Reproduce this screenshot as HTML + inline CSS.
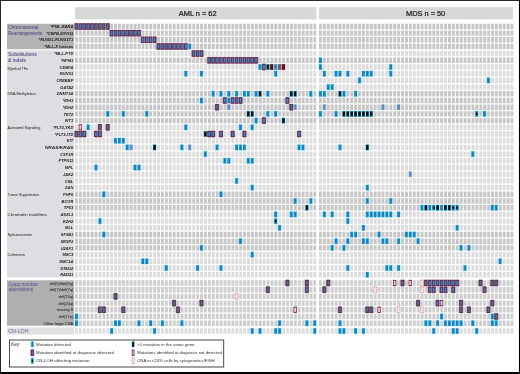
<!DOCTYPE html>
<html><head><meta charset="utf-8"><title>Mutation overview</title><style>html,body{margin:0;padding:0;background:#fff;width:520px;height:374px;overflow:hidden}</style></head><body>
<svg width="520" height="374" viewBox="0 0 520 374" font-family="'Liberation Sans', Arial, Helvetica, sans-serif" style="display:block"><defs><filter id="sb" x="0" y="0" width="520" height="374" filterUnits="userSpaceOnUse"><feGaussianBlur stdDeviation="0.3"/></filter></defs><g filter="url(#sb)"><rect x="0" y="0" width="520" height="374" fill="#000"/>
<rect x="0.85" y="0.85" width="518.1" height="371.15" fill="#fff"/>
<rect x="75" y="7.2" width="241.3" height="12.2" fill="#d8d8d8"/>
<rect x="319" y="7.2" width="194" height="12.2" fill="#d8d8d8"/>
<text x="178.8" y="15.9" font-size="7.4" fill="#1a1a1a" text-anchor="start" font-weight="normal" font-style="normal" stroke="#1a1a1a" stroke-width="0.22">AML n = 62</text>
<text x="406" y="15.9" font-size="7.4" fill="#1a1a1a" text-anchor="start" font-weight="normal" font-style="normal" stroke="#1a1a1a" stroke-width="0.22">MDS n = 50</text>
<rect x="7" y="23.8" width="67" height="25.4" fill="#b3b3b6"/>
<rect x="7" y="50.4" width="67" height="227" fill="#dfdde1"/>
<rect x="7" y="280.3" width="67" height="45.5" fill="#afafb0"/>
<rect x="7" y="327.4" width="67" height="7.2" fill="#e0e0e2"/>
<path d="M75 26.5H316.17" stroke="#c6c6c6" stroke-width="5.4" stroke-dasharray="2.9 1.01"/>
<path d="M319 26.5H513.29" stroke="#c6c6c6" stroke-width="5.4" stroke-dasharray="2.9 1.01"/>
<path d="M75 33.15H316.17" stroke="#c6c6c6" stroke-width="5.4" stroke-dasharray="2.9 1.01"/>
<path d="M319 33.15H513.29" stroke="#c6c6c6" stroke-width="5.4" stroke-dasharray="2.9 1.01"/>
<path d="M75 39.8H316.17" stroke="#c6c6c6" stroke-width="5.4" stroke-dasharray="2.9 1.01"/>
<path d="M319 39.8H513.29" stroke="#c6c6c6" stroke-width="5.4" stroke-dasharray="2.9 1.01"/>
<path d="M75 46.45H316.17" stroke="#c6c6c6" stroke-width="5.4" stroke-dasharray="2.9 1.01"/>
<path d="M319 46.45H513.29" stroke="#c6c6c6" stroke-width="5.4" stroke-dasharray="2.9 1.01"/>
<path d="M75 53.6H316.17" stroke="#dcdcdc" stroke-width="5.4" stroke-dasharray="2.9 1.01"/>
<path d="M319 53.6H513.29" stroke="#dcdcdc" stroke-width="5.4" stroke-dasharray="2.9 1.01"/>
<path d="M75 60.3H316.17" stroke="#c6c6c6" stroke-width="5.4" stroke-dasharray="2.9 1.01"/>
<path d="M319 60.3H513.29" stroke="#c6c6c6" stroke-width="5.4" stroke-dasharray="2.9 1.01"/>
<path d="M75 67H316.17" stroke="#dcdcdc" stroke-width="5.4" stroke-dasharray="2.9 1.01"/>
<path d="M319 67H513.29" stroke="#dcdcdc" stroke-width="5.4" stroke-dasharray="2.9 1.01"/>
<path d="M75 73.7H316.17" stroke="#dcdcdc" stroke-width="5.4" stroke-dasharray="2.9 1.01"/>
<path d="M319 73.7H513.29" stroke="#dcdcdc" stroke-width="5.4" stroke-dasharray="2.9 1.01"/>
<path d="M75 80.4H316.17" stroke="#dcdcdc" stroke-width="5.4" stroke-dasharray="2.9 1.01"/>
<path d="M319 80.4H513.29" stroke="#dcdcdc" stroke-width="5.4" stroke-dasharray="2.9 1.01"/>
<path d="M75 87.1H316.17" stroke="#dcdcdc" stroke-width="5.4" stroke-dasharray="2.9 1.01"/>
<path d="M319 87.1H513.29" stroke="#dcdcdc" stroke-width="5.4" stroke-dasharray="2.9 1.01"/>
<path d="M75 93.8H316.17" stroke="#c6c6c6" stroke-width="5.4" stroke-dasharray="2.9 1.01"/>
<path d="M319 93.8H513.29" stroke="#c6c6c6" stroke-width="5.4" stroke-dasharray="2.9 1.01"/>
<path d="M75 100.5H316.17" stroke="#c6c6c6" stroke-width="5.4" stroke-dasharray="2.9 1.01"/>
<path d="M319 100.5H513.29" stroke="#c6c6c6" stroke-width="5.4" stroke-dasharray="2.9 1.01"/>
<path d="M75 107.2H316.17" stroke="#c6c6c6" stroke-width="5.4" stroke-dasharray="2.9 1.01"/>
<path d="M319 107.2H513.29" stroke="#c6c6c6" stroke-width="5.4" stroke-dasharray="2.9 1.01"/>
<path d="M75 113.9H316.17" stroke="#c6c6c6" stroke-width="5.4" stroke-dasharray="2.9 1.01"/>
<path d="M319 113.9H513.29" stroke="#c6c6c6" stroke-width="5.4" stroke-dasharray="2.9 1.01"/>
<path d="M75 120.6H316.17" stroke="#c6c6c6" stroke-width="5.4" stroke-dasharray="2.9 1.01"/>
<path d="M319 120.6H513.29" stroke="#c6c6c6" stroke-width="5.4" stroke-dasharray="2.9 1.01"/>
<path d="M75 127.3H316.17" stroke="#dcdcdc" stroke-width="5.4" stroke-dasharray="2.9 1.01"/>
<path d="M319 127.3H513.29" stroke="#dcdcdc" stroke-width="5.4" stroke-dasharray="2.9 1.01"/>
<path d="M75 134H316.17" stroke="#dcdcdc" stroke-width="5.4" stroke-dasharray="2.9 1.01"/>
<path d="M319 134H513.29" stroke="#dcdcdc" stroke-width="5.4" stroke-dasharray="2.9 1.01"/>
<path d="M75 140.7H316.17" stroke="#dcdcdc" stroke-width="5.4" stroke-dasharray="2.9 1.01"/>
<path d="M319 140.7H513.29" stroke="#dcdcdc" stroke-width="5.4" stroke-dasharray="2.9 1.01"/>
<path d="M75 147.4H316.17" stroke="#dcdcdc" stroke-width="5.4" stroke-dasharray="2.9 1.01"/>
<path d="M319 147.4H513.29" stroke="#dcdcdc" stroke-width="5.4" stroke-dasharray="2.9 1.01"/>
<path d="M75 154.1H316.17" stroke="#dcdcdc" stroke-width="5.4" stroke-dasharray="2.9 1.01"/>
<path d="M319 154.1H513.29" stroke="#dcdcdc" stroke-width="5.4" stroke-dasharray="2.9 1.01"/>
<path d="M75 160.8H316.17" stroke="#dcdcdc" stroke-width="5.4" stroke-dasharray="2.9 1.01"/>
<path d="M319 160.8H513.29" stroke="#dcdcdc" stroke-width="5.4" stroke-dasharray="2.9 1.01"/>
<path d="M75 167.5H316.17" stroke="#dcdcdc" stroke-width="5.4" stroke-dasharray="2.9 1.01"/>
<path d="M319 167.5H513.29" stroke="#dcdcdc" stroke-width="5.4" stroke-dasharray="2.9 1.01"/>
<path d="M75 174.2H316.17" stroke="#dcdcdc" stroke-width="5.4" stroke-dasharray="2.9 1.01"/>
<path d="M319 174.2H513.29" stroke="#dcdcdc" stroke-width="5.4" stroke-dasharray="2.9 1.01"/>
<path d="M75 180.9H316.17" stroke="#dcdcdc" stroke-width="5.4" stroke-dasharray="2.9 1.01"/>
<path d="M319 180.9H513.29" stroke="#dcdcdc" stroke-width="5.4" stroke-dasharray="2.9 1.01"/>
<path d="M75 187.6H316.17" stroke="#dcdcdc" stroke-width="5.4" stroke-dasharray="2.9 1.01"/>
<path d="M319 187.6H513.29" stroke="#dcdcdc" stroke-width="5.4" stroke-dasharray="2.9 1.01"/>
<path d="M75 194.3H316.17" stroke="#c6c6c6" stroke-width="5.4" stroke-dasharray="2.9 1.01"/>
<path d="M319 194.3H513.29" stroke="#c6c6c6" stroke-width="5.4" stroke-dasharray="2.9 1.01"/>
<path d="M75 201H316.17" stroke="#c6c6c6" stroke-width="5.4" stroke-dasharray="2.9 1.01"/>
<path d="M319 201H513.29" stroke="#c6c6c6" stroke-width="5.4" stroke-dasharray="2.9 1.01"/>
<path d="M75 207.7H316.17" stroke="#c6c6c6" stroke-width="5.4" stroke-dasharray="2.9 1.01"/>
<path d="M319 207.7H513.29" stroke="#c6c6c6" stroke-width="5.4" stroke-dasharray="2.9 1.01"/>
<path d="M75 214.4H316.17" stroke="#dcdcdc" stroke-width="5.4" stroke-dasharray="2.9 1.01"/>
<path d="M319 214.4H513.29" stroke="#dcdcdc" stroke-width="5.4" stroke-dasharray="2.9 1.01"/>
<path d="M75 221.1H316.17" stroke="#dcdcdc" stroke-width="5.4" stroke-dasharray="2.9 1.01"/>
<path d="M319 221.1H513.29" stroke="#dcdcdc" stroke-width="5.4" stroke-dasharray="2.9 1.01"/>
<path d="M75 227.8H316.17" stroke="#dcdcdc" stroke-width="5.4" stroke-dasharray="2.9 1.01"/>
<path d="M319 227.8H513.29" stroke="#dcdcdc" stroke-width="5.4" stroke-dasharray="2.9 1.01"/>
<path d="M75 234.5H316.17" stroke="#c6c6c6" stroke-width="5.4" stroke-dasharray="2.9 1.01"/>
<path d="M319 234.5H513.29" stroke="#c6c6c6" stroke-width="5.4" stroke-dasharray="2.9 1.01"/>
<path d="M75 241.2H316.17" stroke="#c6c6c6" stroke-width="5.4" stroke-dasharray="2.9 1.01"/>
<path d="M319 241.2H513.29" stroke="#c6c6c6" stroke-width="5.4" stroke-dasharray="2.9 1.01"/>
<path d="M75 247.9H316.17" stroke="#c6c6c6" stroke-width="5.4" stroke-dasharray="2.9 1.01"/>
<path d="M319 247.9H513.29" stroke="#c6c6c6" stroke-width="5.4" stroke-dasharray="2.9 1.01"/>
<path d="M75 254.6H316.17" stroke="#dcdcdc" stroke-width="5.4" stroke-dasharray="2.9 1.01"/>
<path d="M319 254.6H513.29" stroke="#dcdcdc" stroke-width="5.4" stroke-dasharray="2.9 1.01"/>
<path d="M75 261.3H316.17" stroke="#dcdcdc" stroke-width="5.4" stroke-dasharray="2.9 1.01"/>
<path d="M319 261.3H513.29" stroke="#dcdcdc" stroke-width="5.4" stroke-dasharray="2.9 1.01"/>
<path d="M75 268H316.17" stroke="#dcdcdc" stroke-width="5.4" stroke-dasharray="2.9 1.01"/>
<path d="M319 268H513.29" stroke="#dcdcdc" stroke-width="5.4" stroke-dasharray="2.9 1.01"/>
<path d="M75 274.7H316.17" stroke="#dcdcdc" stroke-width="5.4" stroke-dasharray="2.9 1.01"/>
<path d="M319 274.7H513.29" stroke="#dcdcdc" stroke-width="5.4" stroke-dasharray="2.9 1.01"/>
<path d="M75 283H316.17" stroke="#cdcdcd" stroke-width="5.4" stroke-dasharray="2.9 1.01"/>
<path d="M319 283H513.29" stroke="#cdcdcd" stroke-width="5.4" stroke-dasharray="2.9 1.01"/>
<path d="M75 289.7H316.17" stroke="#cdcdcd" stroke-width="5.4" stroke-dasharray="2.9 1.01"/>
<path d="M319 289.7H513.29" stroke="#cdcdcd" stroke-width="5.4" stroke-dasharray="2.9 1.01"/>
<path d="M75 296.4H316.17" stroke="#cdcdcd" stroke-width="5.4" stroke-dasharray="2.9 1.01"/>
<path d="M319 296.4H513.29" stroke="#cdcdcd" stroke-width="5.4" stroke-dasharray="2.9 1.01"/>
<path d="M75 303.1H316.17" stroke="#cdcdcd" stroke-width="5.4" stroke-dasharray="2.9 1.01"/>
<path d="M319 303.1H513.29" stroke="#cdcdcd" stroke-width="5.4" stroke-dasharray="2.9 1.01"/>
<path d="M75 309.8H316.17" stroke="#cdcdcd" stroke-width="5.4" stroke-dasharray="2.9 1.01"/>
<path d="M319 309.8H513.29" stroke="#cdcdcd" stroke-width="5.4" stroke-dasharray="2.9 1.01"/>
<path d="M75 316.5H316.17" stroke="#cdcdcd" stroke-width="5.4" stroke-dasharray="2.9 1.01"/>
<path d="M319 316.5H513.29" stroke="#cdcdcd" stroke-width="5.4" stroke-dasharray="2.9 1.01"/>
<path d="M75 323.2H316.17" stroke="#cdcdcd" stroke-width="5.4" stroke-dasharray="2.9 1.01"/>
<path d="M319 323.2H513.29" stroke="#cdcdcd" stroke-width="5.4" stroke-dasharray="2.9 1.01"/>
<path d="M75 331H316.17" stroke="#dedede" stroke-width="5.4" stroke-dasharray="2.9 1.01"/>
<path d="M319 331H513.29" stroke="#dedede" stroke-width="5.4" stroke-dasharray="2.9 1.01"/>
<rect x="74.34" y="22.85" width="4.22" height="7.3" fill="#ecc0d0"/>
<rect x="74.34" y="23.35" width="4.22" height="6.3" fill="#9a4c70"/>
<rect x="75" y="23.45" width="2.9" height="6.1" fill="#48244a"/>
<rect x="75.55" y="24.25" width="1.8" height="4.5" fill="#3a84bc"/>
<rect x="78.25" y="22.85" width="4.22" height="7.3" fill="#ecc0d0"/>
<rect x="78.25" y="23.35" width="4.22" height="6.3" fill="#9a4c70"/>
<rect x="78.91" y="23.45" width="2.9" height="6.1" fill="#48244a"/>
<rect x="79.46" y="24.25" width="1.8" height="4.5" fill="#3a84bc"/>
<rect x="82.15" y="22.85" width="4.22" height="7.3" fill="#ecc0d0"/>
<rect x="82.15" y="23.35" width="4.22" height="6.3" fill="#9a4c70"/>
<rect x="82.81" y="23.45" width="2.9" height="6.1" fill="#48244a"/>
<rect x="83.36" y="24.25" width="1.8" height="4.5" fill="#3a84bc"/>
<rect x="86.06" y="22.85" width="4.22" height="7.3" fill="#ecc0d0"/>
<rect x="86.06" y="23.35" width="4.22" height="6.3" fill="#9a4c70"/>
<rect x="86.72" y="23.45" width="2.9" height="6.1" fill="#48244a"/>
<rect x="87.27" y="24.25" width="1.8" height="4.5" fill="#3a84bc"/>
<rect x="89.96" y="22.85" width="4.22" height="7.3" fill="#ecc0d0"/>
<rect x="89.96" y="23.35" width="4.22" height="6.3" fill="#9a4c70"/>
<rect x="90.62" y="23.45" width="2.9" height="6.1" fill="#48244a"/>
<rect x="91.17" y="24.25" width="1.8" height="4.5" fill="#3a84bc"/>
<rect x="93.87" y="22.85" width="4.22" height="7.3" fill="#e2d2da"/>
<rect x="93.87" y="23.35" width="4.22" height="6.3" fill="#6e5a72"/>
<rect x="94.53" y="23.45" width="2.9" height="6.1" fill="#443248"/>
<rect x="95.08" y="24.25" width="1.8" height="4.5" fill="#6c6080"/>
<rect x="97.78" y="22.85" width="4.22" height="7.3" fill="#e2d2da"/>
<rect x="97.78" y="23.35" width="4.22" height="6.3" fill="#6e5a72"/>
<rect x="98.44" y="23.45" width="2.9" height="6.1" fill="#443248"/>
<rect x="98.99" y="24.25" width="1.8" height="4.5" fill="#6c6080"/>
<rect x="101.68" y="22.85" width="4.22" height="7.3" fill="#e2d2da"/>
<rect x="101.68" y="23.35" width="4.22" height="6.3" fill="#6e5a72"/>
<rect x="102.34" y="23.45" width="2.9" height="6.1" fill="#443248"/>
<rect x="102.89" y="24.25" width="1.8" height="4.5" fill="#6c6080"/>
<rect x="105.59" y="22.85" width="4.22" height="7.3" fill="#e2d2da"/>
<rect x="105.59" y="23.35" width="4.22" height="6.3" fill="#6e5a72"/>
<rect x="106.25" y="23.45" width="2.9" height="6.1" fill="#443248"/>
<rect x="106.8" y="24.25" width="1.8" height="4.5" fill="#6c6080"/>
<rect x="109.49" y="29.5" width="4.22" height="7.3" fill="#ecc0d0"/>
<rect x="109.49" y="30" width="4.22" height="6.3" fill="#9a4c70"/>
<rect x="110.15" y="30.1" width="2.9" height="6.1" fill="#48244a"/>
<rect x="110.7" y="30.9" width="1.8" height="4.5" fill="#3a84bc"/>
<rect x="113.4" y="29.5" width="4.22" height="7.3" fill="#ecc0d0"/>
<rect x="113.4" y="30" width="4.22" height="6.3" fill="#9a4c70"/>
<rect x="114.06" y="30.1" width="2.9" height="6.1" fill="#48244a"/>
<rect x="114.61" y="30.9" width="1.8" height="4.5" fill="#3a84bc"/>
<rect x="117.31" y="29.5" width="4.22" height="7.3" fill="#ecc0d0"/>
<rect x="117.31" y="30" width="4.22" height="6.3" fill="#9a4c70"/>
<rect x="117.97" y="30.1" width="2.9" height="6.1" fill="#48244a"/>
<rect x="118.52" y="30.9" width="1.8" height="4.5" fill="#3a84bc"/>
<rect x="121.21" y="29.5" width="4.22" height="7.3" fill="#ecc0d0"/>
<rect x="121.21" y="30" width="4.22" height="6.3" fill="#9a4c70"/>
<rect x="121.87" y="30.1" width="2.9" height="6.1" fill="#48244a"/>
<rect x="122.42" y="30.9" width="1.8" height="4.5" fill="#3a84bc"/>
<rect x="125.12" y="29.5" width="4.22" height="7.3" fill="#ecc0d0"/>
<rect x="125.12" y="30" width="4.22" height="6.3" fill="#9a4c70"/>
<rect x="125.78" y="30.1" width="2.9" height="6.1" fill="#48244a"/>
<rect x="126.33" y="30.9" width="1.8" height="4.5" fill="#3a84bc"/>
<rect x="129.02" y="29.5" width="4.22" height="7.3" fill="#ecc0d0"/>
<rect x="129.02" y="30" width="4.22" height="6.3" fill="#9a4c70"/>
<rect x="129.68" y="30.1" width="2.9" height="6.1" fill="#48244a"/>
<rect x="130.23" y="30.9" width="1.8" height="4.5" fill="#3a84bc"/>
<rect x="132.93" y="29.5" width="4.22" height="7.3" fill="#ecc0d0"/>
<rect x="132.93" y="30" width="4.22" height="6.3" fill="#9a4c70"/>
<rect x="133.59" y="30.1" width="2.9" height="6.1" fill="#48244a"/>
<rect x="134.14" y="30.9" width="1.8" height="4.5" fill="#3a84bc"/>
<rect x="136.84" y="29.5" width="4.22" height="7.3" fill="#ecc0d0"/>
<rect x="136.84" y="30" width="4.22" height="6.3" fill="#9a4c70"/>
<rect x="137.5" y="30.1" width="2.9" height="6.1" fill="#48244a"/>
<rect x="138.05" y="30.9" width="1.8" height="4.5" fill="#3a84bc"/>
<rect x="140.74" y="36.15" width="4.22" height="7.3" fill="#ecc0d0"/>
<rect x="140.74" y="36.65" width="4.22" height="6.3" fill="#9a4c70"/>
<rect x="141.4" y="36.75" width="2.9" height="6.1" fill="#48244a"/>
<rect x="141.95" y="37.55" width="1.8" height="4.5" fill="#3a84bc"/>
<rect x="144.65" y="36.15" width="4.22" height="7.3" fill="#ecc0d0"/>
<rect x="144.65" y="36.65" width="4.22" height="6.3" fill="#9a4c70"/>
<rect x="145.31" y="36.75" width="2.9" height="6.1" fill="#48244a"/>
<rect x="145.86" y="37.55" width="1.8" height="4.5" fill="#3a84bc"/>
<rect x="148.55" y="36.15" width="4.22" height="7.3" fill="#ecc0d0"/>
<rect x="148.55" y="36.65" width="4.22" height="6.3" fill="#9a4c70"/>
<rect x="149.21" y="36.75" width="2.9" height="6.1" fill="#48244a"/>
<rect x="149.76" y="37.55" width="1.8" height="4.5" fill="#3a84bc"/>
<rect x="152.46" y="36.15" width="4.22" height="7.3" fill="#ecc0d0"/>
<rect x="152.46" y="36.65" width="4.22" height="6.3" fill="#9a4c70"/>
<rect x="153.12" y="36.75" width="2.9" height="6.1" fill="#48244a"/>
<rect x="153.67" y="37.55" width="1.8" height="4.5" fill="#3a84bc"/>
<rect x="156.37" y="42.8" width="4.22" height="7.3" fill="#ecc0d0"/>
<rect x="156.37" y="43.3" width="4.22" height="6.3" fill="#9a4c70"/>
<rect x="157.03" y="43.4" width="2.9" height="6.1" fill="#48244a"/>
<rect x="157.58" y="44.2" width="1.8" height="4.5" fill="#3a84bc"/>
<rect x="160.27" y="42.8" width="4.22" height="7.3" fill="#ecc0d0"/>
<rect x="160.27" y="43.3" width="4.22" height="6.3" fill="#9a4c70"/>
<rect x="160.93" y="43.4" width="2.9" height="6.1" fill="#48244a"/>
<rect x="161.48" y="44.2" width="1.8" height="4.5" fill="#3a84bc"/>
<rect x="164.18" y="42.8" width="4.22" height="7.3" fill="#ecc0d0"/>
<rect x="164.18" y="43.3" width="4.22" height="6.3" fill="#9a4c70"/>
<rect x="164.84" y="43.4" width="2.9" height="6.1" fill="#48244a"/>
<rect x="165.39" y="44.2" width="1.8" height="4.5" fill="#3a84bc"/>
<rect x="168.08" y="42.8" width="4.22" height="7.3" fill="#ecc0d0"/>
<rect x="168.08" y="43.3" width="4.22" height="6.3" fill="#9a4c70"/>
<rect x="168.74" y="43.4" width="2.9" height="6.1" fill="#48244a"/>
<rect x="169.29" y="44.2" width="1.8" height="4.5" fill="#3a84bc"/>
<rect x="171.99" y="42.8" width="4.22" height="7.3" fill="#ecc0d0"/>
<rect x="171.99" y="43.3" width="4.22" height="6.3" fill="#9a4c70"/>
<rect x="172.65" y="43.4" width="2.9" height="6.1" fill="#48244a"/>
<rect x="173.2" y="44.2" width="1.8" height="4.5" fill="#3a84bc"/>
<rect x="175.9" y="42.8" width="4.22" height="7.3" fill="#ecc0d0"/>
<rect x="175.9" y="43.3" width="4.22" height="6.3" fill="#9a4c70"/>
<rect x="176.56" y="43.4" width="2.9" height="6.1" fill="#48244a"/>
<rect x="177.11" y="44.2" width="1.8" height="4.5" fill="#3a84bc"/>
<rect x="179.8" y="42.8" width="4.22" height="7.3" fill="#ecc0d0"/>
<rect x="179.8" y="43.3" width="4.22" height="6.3" fill="#9a4c70"/>
<rect x="180.46" y="43.4" width="2.9" height="6.1" fill="#48244a"/>
<rect x="181.01" y="44.2" width="1.8" height="4.5" fill="#3a84bc"/>
<rect x="183.71" y="42.8" width="4.22" height="7.3" fill="#ecc0d0"/>
<rect x="183.71" y="43.3" width="4.22" height="6.3" fill="#9a4c70"/>
<rect x="184.37" y="43.4" width="2.9" height="6.1" fill="#48244a"/>
<rect x="184.92" y="44.2" width="1.8" height="4.5" fill="#3a84bc"/>
<rect x="187.67" y="43.2" width="4.1" height="6.5" fill="#a8f2fc"/>
<rect x="188.32" y="43.75" width="2.8" height="5.4" fill="#1c7fbe"/>
<rect x="191.52" y="49.95" width="4.22" height="7.3" fill="#ecc0d0"/>
<rect x="191.52" y="50.45" width="4.22" height="6.3" fill="#9a4c70"/>
<rect x="192.18" y="50.55" width="2.9" height="6.1" fill="#48244a"/>
<rect x="192.73" y="51.35" width="1.8" height="4.5" fill="#3a84bc"/>
<rect x="195.43" y="49.95" width="4.22" height="7.3" fill="#ecc0d0"/>
<rect x="195.43" y="50.45" width="4.22" height="6.3" fill="#9a4c70"/>
<rect x="196.09" y="50.55" width="2.9" height="6.1" fill="#48244a"/>
<rect x="196.64" y="51.35" width="1.8" height="4.5" fill="#3a84bc"/>
<rect x="199.33" y="49.95" width="4.22" height="7.3" fill="#ecc0d0"/>
<rect x="199.33" y="50.45" width="4.22" height="6.3" fill="#9a4c70"/>
<rect x="199.99" y="50.55" width="2.9" height="6.1" fill="#48244a"/>
<rect x="200.54" y="51.35" width="1.8" height="4.5" fill="#3a84bc"/>
<rect x="207.14" y="56.65" width="4.22" height="7.3" fill="#ecc0d0"/>
<rect x="207.14" y="57.15" width="4.22" height="6.3" fill="#9a4c70"/>
<rect x="207.8" y="57.25" width="2.9" height="6.1" fill="#48244a"/>
<rect x="208.35" y="58.05" width="1.8" height="4.5" fill="#3a84bc"/>
<rect x="211.05" y="56.65" width="4.22" height="7.3" fill="#ecc0d0"/>
<rect x="211.05" y="57.15" width="4.22" height="6.3" fill="#9a4c70"/>
<rect x="211.71" y="57.25" width="2.9" height="6.1" fill="#48244a"/>
<rect x="212.26" y="58.05" width="1.8" height="4.5" fill="#3a84bc"/>
<rect x="214.96" y="56.65" width="4.22" height="7.3" fill="#ecc0d0"/>
<rect x="214.96" y="57.15" width="4.22" height="6.3" fill="#9a4c70"/>
<rect x="215.62" y="57.25" width="2.9" height="6.1" fill="#48244a"/>
<rect x="216.17" y="58.05" width="1.8" height="4.5" fill="#3a84bc"/>
<rect x="218.86" y="56.65" width="4.22" height="7.3" fill="#ecc0d0"/>
<rect x="218.86" y="57.15" width="4.22" height="6.3" fill="#9a4c70"/>
<rect x="219.52" y="57.25" width="2.9" height="6.1" fill="#48244a"/>
<rect x="220.07" y="58.05" width="1.8" height="4.5" fill="#3a84bc"/>
<rect x="222.77" y="56.65" width="4.22" height="7.3" fill="#ecc0d0"/>
<rect x="222.77" y="57.15" width="4.22" height="6.3" fill="#9a4c70"/>
<rect x="223.43" y="57.25" width="2.9" height="6.1" fill="#48244a"/>
<rect x="223.98" y="58.05" width="1.8" height="4.5" fill="#3a84bc"/>
<rect x="226.67" y="56.65" width="4.22" height="7.3" fill="#ecc0d0"/>
<rect x="226.67" y="57.15" width="4.22" height="6.3" fill="#9a4c70"/>
<rect x="227.33" y="57.25" width="2.9" height="6.1" fill="#48244a"/>
<rect x="227.88" y="58.05" width="1.8" height="4.5" fill="#3a84bc"/>
<rect x="230.58" y="56.65" width="4.22" height="7.3" fill="#ecc0d0"/>
<rect x="230.58" y="57.15" width="4.22" height="6.3" fill="#9a4c70"/>
<rect x="231.24" y="57.25" width="2.9" height="6.1" fill="#48244a"/>
<rect x="231.79" y="58.05" width="1.8" height="4.5" fill="#3a84bc"/>
<rect x="234.49" y="56.65" width="4.22" height="7.3" fill="#ecc0d0"/>
<rect x="234.49" y="57.15" width="4.22" height="6.3" fill="#9a4c70"/>
<rect x="235.15" y="57.25" width="2.9" height="6.1" fill="#48244a"/>
<rect x="235.7" y="58.05" width="1.8" height="4.5" fill="#3a84bc"/>
<rect x="238.39" y="56.65" width="4.22" height="7.3" fill="#ecc0d0"/>
<rect x="238.39" y="57.15" width="4.22" height="6.3" fill="#9a4c70"/>
<rect x="239.05" y="57.25" width="2.9" height="6.1" fill="#48244a"/>
<rect x="239.6" y="58.05" width="1.8" height="4.5" fill="#3a84bc"/>
<rect x="242.3" y="56.65" width="4.22" height="7.3" fill="#ecc0d0"/>
<rect x="242.3" y="57.15" width="4.22" height="6.3" fill="#9a4c70"/>
<rect x="242.96" y="57.25" width="2.9" height="6.1" fill="#48244a"/>
<rect x="243.51" y="58.05" width="1.8" height="4.5" fill="#3a84bc"/>
<rect x="246.2" y="56.65" width="4.22" height="7.3" fill="#ecc0d0"/>
<rect x="246.2" y="57.15" width="4.22" height="6.3" fill="#9a4c70"/>
<rect x="246.86" y="57.25" width="2.9" height="6.1" fill="#48244a"/>
<rect x="247.41" y="58.05" width="1.8" height="4.5" fill="#3a84bc"/>
<rect x="250.11" y="56.65" width="4.22" height="7.3" fill="#ecc0d0"/>
<rect x="250.11" y="57.15" width="4.22" height="6.3" fill="#9a4c70"/>
<rect x="250.77" y="57.25" width="2.9" height="6.1" fill="#48244a"/>
<rect x="251.32" y="58.05" width="1.8" height="4.5" fill="#3a84bc"/>
<rect x="254.02" y="56.65" width="4.22" height="7.3" fill="#ecc0d0"/>
<rect x="254.02" y="57.15" width="4.22" height="6.3" fill="#9a4c70"/>
<rect x="254.68" y="57.25" width="2.9" height="6.1" fill="#48244a"/>
<rect x="255.23" y="58.05" width="1.8" height="4.5" fill="#3a84bc"/>
<rect x="318.4" y="57.05" width="4.1" height="6.5" fill="#a8f2fc"/>
<rect x="319.05" y="57.6" width="2.8" height="5.4" fill="#1c7fbe"/>
<rect x="257.98" y="63.75" width="4.1" height="6.5" fill="#a8f2fc"/>
<rect x="258.63" y="64.3" width="2.8" height="5.4" fill="#1c7fbe"/>
<rect x="261.83" y="63.35" width="4.22" height="7.3" fill="#ecc0d0"/>
<rect x="261.83" y="63.85" width="4.22" height="6.3" fill="#9a4c70"/>
<rect x="262.49" y="63.95" width="2.9" height="6.1" fill="#48244a"/>
<rect x="263.04" y="64.75" width="1.8" height="4.5" fill="#3a84bc"/>
<rect x="265.79" y="63.75" width="4.1" height="6.5" fill="#a0eefa"/>
<rect x="266.44" y="64.3" width="2.8" height="5.4" fill="#0e3452"/>
<rect x="266.99" y="65.2" width="1.7" height="3.6" fill="#03080f"/>
<rect x="269.9" y="63.9" width="3.7" height="6.2" fill="#c07080"/>
<rect x="270.3" y="64.3" width="2.9" height="5.4" fill="#4a1420"/>
<rect x="273.61" y="63.75" width="4.1" height="6.5" fill="#a8f2fc"/>
<rect x="274.26" y="64.3" width="2.8" height="5.4" fill="#1c7fbe"/>
<rect x="277.71" y="63.9" width="3.7" height="6.2" fill="#c890a8"/>
<rect x="278.11" y="64.3" width="2.9" height="5.4" fill="#7a4c6c"/>
<rect x="281.62" y="63.9" width="3.7" height="6.2" fill="#c07080"/>
<rect x="282.02" y="64.3" width="2.9" height="5.4" fill="#4a1420"/>
<rect x="318.4" y="63.75" width="4.1" height="6.5" fill="#a8f2fc"/>
<rect x="319.05" y="64.3" width="2.8" height="5.4" fill="#1c7fbe"/>
<rect x="388.71" y="63.75" width="4.1" height="6.5" fill="#a8f2fc"/>
<rect x="389.36" y="64.3" width="2.8" height="5.4" fill="#1c7fbe"/>
<rect x="183.77" y="70.45" width="4.1" height="6.5" fill="#a8f2fc"/>
<rect x="184.42" y="71" width="2.8" height="5.4" fill="#1c7fbe"/>
<rect x="199.39" y="70.45" width="4.1" height="6.5" fill="#a8f2fc"/>
<rect x="200.04" y="71" width="2.8" height="5.4" fill="#1c7fbe"/>
<rect x="273.61" y="70.45" width="4.1" height="6.5" fill="#a8f2fc"/>
<rect x="274.26" y="71" width="2.8" height="5.4" fill="#1c7fbe"/>
<rect x="322.31" y="70.45" width="4.1" height="6.5" fill="#a8f2fc"/>
<rect x="322.96" y="71" width="2.8" height="5.4" fill="#1c7fbe"/>
<rect x="334.02" y="70.45" width="4.1" height="6.5" fill="#a8f2fc"/>
<rect x="334.67" y="71" width="2.8" height="5.4" fill="#1c7fbe"/>
<rect x="337.93" y="70.45" width="4.1" height="6.5" fill="#a8f2fc"/>
<rect x="338.58" y="71" width="2.8" height="5.4" fill="#1c7fbe"/>
<rect x="345.74" y="70.45" width="4.1" height="6.5" fill="#a8f2fc"/>
<rect x="346.39" y="71" width="2.8" height="5.4" fill="#1c7fbe"/>
<rect x="361.37" y="70.45" width="4.1" height="6.5" fill="#a8f2fc"/>
<rect x="362.02" y="71" width="2.8" height="5.4" fill="#1c7fbe"/>
<rect x="365.27" y="70.45" width="4.1" height="6.5" fill="#a8f2fc"/>
<rect x="365.92" y="71" width="2.8" height="5.4" fill="#1c7fbe"/>
<rect x="369.18" y="70.45" width="4.1" height="6.5" fill="#a8f2fc"/>
<rect x="369.83" y="71" width="2.8" height="5.4" fill="#1c7fbe"/>
<rect x="388.71" y="70.45" width="4.1" height="6.5" fill="#a8f2fc"/>
<rect x="389.36" y="71" width="2.8" height="5.4" fill="#1c7fbe"/>
<rect x="357.46" y="77.15" width="4.1" height="6.5" fill="#a8f2fc"/>
<rect x="358.11" y="77.7" width="2.8" height="5.4" fill="#1c7fbe"/>
<rect x="486.36" y="77.15" width="4.1" height="6.5" fill="#a8f2fc"/>
<rect x="487.01" y="77.7" width="2.8" height="5.4" fill="#1c7fbe"/>
<rect x="326.21" y="83.85" width="4.1" height="6.5" fill="#a8f2fc"/>
<rect x="326.86" y="84.4" width="2.8" height="5.4" fill="#1c7fbe"/>
<rect x="330.12" y="83.85" width="4.1" height="6.5" fill="#a8f2fc"/>
<rect x="330.77" y="84.4" width="2.8" height="5.4" fill="#1c7fbe"/>
<rect x="211.11" y="90.55" width="4.1" height="6.5" fill="#a8f2fc"/>
<rect x="211.76" y="91.1" width="2.8" height="5.4" fill="#1c7fbe"/>
<rect x="218.92" y="90.55" width="4.1" height="6.5" fill="#a8f2fc"/>
<rect x="219.57" y="91.1" width="2.8" height="5.4" fill="#1c7fbe"/>
<rect x="226.73" y="90.55" width="4.1" height="6.5" fill="#a8f2fc"/>
<rect x="227.38" y="91.1" width="2.8" height="5.4" fill="#1c7fbe"/>
<rect x="234.55" y="90.55" width="4.1" height="6.5" fill="#a8f2fc"/>
<rect x="235.2" y="91.1" width="2.8" height="5.4" fill="#1c7fbe"/>
<rect x="242.36" y="90.55" width="4.1" height="6.5" fill="#a8f2fc"/>
<rect x="243.01" y="91.1" width="2.8" height="5.4" fill="#1c7fbe"/>
<rect x="246.26" y="90.55" width="4.1" height="6.5" fill="#a8f2fc"/>
<rect x="246.91" y="91.1" width="2.8" height="5.4" fill="#1c7fbe"/>
<rect x="254.08" y="90.55" width="4.1" height="6.5" fill="#a8f2fc"/>
<rect x="254.73" y="91.1" width="2.8" height="5.4" fill="#1c7fbe"/>
<rect x="257.98" y="90.55" width="4.1" height="6.5" fill="#a0eefa"/>
<rect x="258.63" y="91.1" width="2.8" height="5.4" fill="#0e3452"/>
<rect x="259.18" y="92" width="1.7" height="3.6" fill="#03080f"/>
<rect x="265.79" y="90.55" width="4.1" height="6.5" fill="#a8f2fc"/>
<rect x="266.44" y="91.1" width="2.8" height="5.4" fill="#1c7fbe"/>
<rect x="289.23" y="90.55" width="4.1" height="6.5" fill="#a0eefa"/>
<rect x="289.88" y="91.1" width="2.8" height="5.4" fill="#0e3452"/>
<rect x="290.43" y="92" width="1.7" height="3.6" fill="#03080f"/>
<rect x="293.14" y="90.55" width="4.1" height="6.5" fill="#a0eefa"/>
<rect x="293.79" y="91.1" width="2.8" height="5.4" fill="#0e3452"/>
<rect x="294.34" y="92" width="1.7" height="3.6" fill="#03080f"/>
<rect x="308.76" y="90.55" width="4.1" height="6.5" fill="#a8f2fc"/>
<rect x="309.41" y="91.1" width="2.8" height="5.4" fill="#1c7fbe"/>
<rect x="318.4" y="90.55" width="4.1" height="6.5" fill="#a8f2fc"/>
<rect x="319.05" y="91.1" width="2.8" height="5.4" fill="#1c7fbe"/>
<rect x="322.31" y="90.55" width="4.1" height="6.5" fill="#a8f2fc"/>
<rect x="322.96" y="91.1" width="2.8" height="5.4" fill="#1c7fbe"/>
<rect x="337.93" y="90.55" width="4.1" height="6.5" fill="#a0eefa"/>
<rect x="338.58" y="91.1" width="2.8" height="5.4" fill="#0e3452"/>
<rect x="339.13" y="92" width="1.7" height="3.6" fill="#03080f"/>
<rect x="341.84" y="90.55" width="4.1" height="6.5" fill="#a8f2fc"/>
<rect x="342.49" y="91.1" width="2.8" height="5.4" fill="#1c7fbe"/>
<rect x="353.55" y="90.55" width="4.1" height="6.5" fill="#a8f2fc"/>
<rect x="354.2" y="91.1" width="2.8" height="5.4" fill="#1c7fbe"/>
<rect x="199.39" y="97.25" width="4.1" height="6.5" fill="#a8f2fc"/>
<rect x="200.04" y="97.8" width="2.8" height="5.4" fill="#1c7fbe"/>
<rect x="222.77" y="96.85" width="4.22" height="7.3" fill="#ecc0d0"/>
<rect x="222.77" y="97.35" width="4.22" height="6.3" fill="#9a4c70"/>
<rect x="223.43" y="97.45" width="2.9" height="6.1" fill="#48244a"/>
<rect x="223.98" y="98.25" width="1.8" height="4.5" fill="#3a84bc"/>
<rect x="226.73" y="97.25" width="4.1" height="6.5" fill="#a8f2fc"/>
<rect x="227.38" y="97.8" width="2.8" height="5.4" fill="#1c7fbe"/>
<rect x="230.58" y="96.85" width="4.22" height="7.3" fill="#ecc0d0"/>
<rect x="230.58" y="97.35" width="4.22" height="6.3" fill="#9a4c70"/>
<rect x="231.24" y="97.45" width="2.9" height="6.1" fill="#48244a"/>
<rect x="231.79" y="98.25" width="1.8" height="4.5" fill="#3a84bc"/>
<rect x="234.49" y="96.85" width="4.22" height="7.3" fill="#ecc0d0"/>
<rect x="234.49" y="97.35" width="4.22" height="6.3" fill="#9a4c70"/>
<rect x="235.15" y="97.45" width="2.9" height="6.1" fill="#48244a"/>
<rect x="235.7" y="98.25" width="1.8" height="4.5" fill="#3a84bc"/>
<rect x="238.39" y="96.85" width="4.22" height="7.3" fill="#ecc0d0"/>
<rect x="238.39" y="97.35" width="4.22" height="6.3" fill="#9a4c70"/>
<rect x="239.05" y="97.45" width="2.9" height="6.1" fill="#48244a"/>
<rect x="239.6" y="98.25" width="1.8" height="4.5" fill="#3a84bc"/>
<rect x="285.26" y="96.85" width="4.22" height="7.3" fill="#ecc0d0"/>
<rect x="285.26" y="97.35" width="4.22" height="6.3" fill="#9a4c70"/>
<rect x="285.92" y="97.45" width="2.9" height="6.1" fill="#48244a"/>
<rect x="286.47" y="98.25" width="1.8" height="4.5" fill="#3a84bc"/>
<rect x="214.96" y="103.55" width="4.22" height="7.3" fill="#e2d2da"/>
<rect x="214.96" y="104.05" width="4.22" height="6.3" fill="#6e5a72"/>
<rect x="215.62" y="104.15" width="2.9" height="6.1" fill="#443248"/>
<rect x="216.17" y="104.95" width="1.8" height="4.5" fill="#6c6080"/>
<rect x="226.93" y="104.1" width="3.7" height="6.2" fill="#cfe6f6"/>
<rect x="227.33" y="104.5" width="2.9" height="5.4" fill="#5e8cc0"/>
<rect x="289.17" y="103.55" width="4.22" height="7.3" fill="#e2d2da"/>
<rect x="289.17" y="104.05" width="4.22" height="6.3" fill="#6e5a72"/>
<rect x="289.83" y="104.15" width="2.9" height="6.1" fill="#443248"/>
<rect x="290.38" y="104.95" width="1.8" height="4.5" fill="#6c6080"/>
<rect x="293.34" y="104.1" width="3.7" height="6.2" fill="#cfe6f6"/>
<rect x="293.74" y="104.5" width="2.9" height="5.4" fill="#5e8cc0"/>
<rect x="322.51" y="104.1" width="3.7" height="6.2" fill="#cfe6f6"/>
<rect x="322.91" y="104.5" width="2.9" height="5.4" fill="#5e8cc0"/>
<rect x="381.1" y="104.1" width="3.7" height="6.2" fill="#cfe6f6"/>
<rect x="381.5" y="104.5" width="2.9" height="5.4" fill="#5e8cc0"/>
<rect x="396.72" y="104.1" width="3.7" height="6.2" fill="#cfe6f6"/>
<rect x="397.12" y="104.5" width="2.9" height="5.4" fill="#5e8cc0"/>
<rect x="105.65" y="110.65" width="4.1" height="6.5" fill="#a8f2fc"/>
<rect x="106.3" y="111.2" width="2.8" height="5.4" fill="#1c7fbe"/>
<rect x="121.27" y="110.65" width="4.1" height="6.5" fill="#a8f2fc"/>
<rect x="121.92" y="111.2" width="2.8" height="5.4" fill="#1c7fbe"/>
<rect x="144.71" y="110.65" width="4.1" height="6.5" fill="#a8f2fc"/>
<rect x="145.36" y="111.2" width="2.8" height="5.4" fill="#1c7fbe"/>
<rect x="246.26" y="110.65" width="4.1" height="6.5" fill="#a0eefa"/>
<rect x="246.91" y="111.2" width="2.8" height="5.4" fill="#0e3452"/>
<rect x="247.46" y="112.1" width="1.7" height="3.6" fill="#03080f"/>
<rect x="250.17" y="110.65" width="4.1" height="6.5" fill="#a0eefa"/>
<rect x="250.82" y="111.2" width="2.8" height="5.4" fill="#0e3452"/>
<rect x="251.37" y="112.1" width="1.7" height="3.6" fill="#03080f"/>
<rect x="265.79" y="110.65" width="4.1" height="6.5" fill="#a8f2fc"/>
<rect x="266.44" y="111.2" width="2.8" height="5.4" fill="#1c7fbe"/>
<rect x="273.61" y="110.65" width="4.1" height="6.5" fill="#a8f2fc"/>
<rect x="274.26" y="111.2" width="2.8" height="5.4" fill="#1c7fbe"/>
<rect x="318.4" y="110.65" width="4.1" height="6.5" fill="#a8f2fc"/>
<rect x="319.05" y="111.2" width="2.8" height="5.4" fill="#1c7fbe"/>
<rect x="334.02" y="110.65" width="4.1" height="6.5" fill="#a8f2fc"/>
<rect x="334.67" y="111.2" width="2.8" height="5.4" fill="#1c7fbe"/>
<rect x="341.84" y="110.65" width="4.1" height="6.5" fill="#a0eefa"/>
<rect x="342.49" y="111.2" width="2.8" height="5.4" fill="#0e3452"/>
<rect x="343.04" y="112.1" width="1.7" height="3.6" fill="#03080f"/>
<rect x="345.74" y="110.65" width="4.1" height="6.5" fill="#a0eefa"/>
<rect x="346.39" y="111.2" width="2.8" height="5.4" fill="#0e3452"/>
<rect x="346.94" y="112.1" width="1.7" height="3.6" fill="#03080f"/>
<rect x="349.65" y="110.65" width="4.1" height="6.5" fill="#a0eefa"/>
<rect x="350.3" y="111.2" width="2.8" height="5.4" fill="#0e3452"/>
<rect x="350.85" y="112.1" width="1.7" height="3.6" fill="#03080f"/>
<rect x="353.55" y="110.65" width="4.1" height="6.5" fill="#a0eefa"/>
<rect x="354.2" y="111.2" width="2.8" height="5.4" fill="#0e3452"/>
<rect x="354.75" y="112.1" width="1.7" height="3.6" fill="#03080f"/>
<rect x="357.46" y="110.65" width="4.1" height="6.5" fill="#a0eefa"/>
<rect x="358.11" y="111.2" width="2.8" height="5.4" fill="#0e3452"/>
<rect x="358.66" y="112.1" width="1.7" height="3.6" fill="#03080f"/>
<rect x="361.37" y="110.65" width="4.1" height="6.5" fill="#a0eefa"/>
<rect x="362.02" y="111.2" width="2.8" height="5.4" fill="#0e3452"/>
<rect x="362.57" y="112.1" width="1.7" height="3.6" fill="#03080f"/>
<rect x="365.27" y="110.65" width="4.1" height="6.5" fill="#a0eefa"/>
<rect x="365.92" y="111.2" width="2.8" height="5.4" fill="#0e3452"/>
<rect x="366.47" y="112.1" width="1.7" height="3.6" fill="#03080f"/>
<rect x="369.18" y="110.65" width="4.1" height="6.5" fill="#a0eefa"/>
<rect x="369.83" y="111.2" width="2.8" height="5.4" fill="#0e3452"/>
<rect x="370.38" y="112.1" width="1.7" height="3.6" fill="#03080f"/>
<rect x="474.64" y="110.65" width="4.1" height="6.5" fill="#a0eefa"/>
<rect x="475.29" y="111.2" width="2.8" height="5.4" fill="#2a7898"/>
<rect x="475.84" y="112.8" width="1.7" height="2.2" fill="#03080f"/>
<rect x="482.45" y="110.65" width="4.1" height="6.5" fill="#a8f2fc"/>
<rect x="483.1" y="111.2" width="2.8" height="5.4" fill="#1c7fbe"/>
<rect x="254.08" y="117.35" width="4.1" height="6.5" fill="#a8f2fc"/>
<rect x="254.73" y="117.9" width="2.8" height="5.4" fill="#1c7fbe"/>
<rect x="261.83" y="116.95" width="4.22" height="7.3" fill="#ecc0d0"/>
<rect x="261.83" y="117.45" width="4.22" height="6.3" fill="#9a4c70"/>
<rect x="262.49" y="117.55" width="2.9" height="6.1" fill="#48244a"/>
<rect x="263.04" y="118.35" width="1.8" height="4.5" fill="#3a84bc"/>
<rect x="281.42" y="117.35" width="4.1" height="6.5" fill="#a0eefa"/>
<rect x="282.07" y="117.9" width="2.8" height="5.4" fill="#0e3452"/>
<rect x="282.62" y="118.8" width="1.7" height="3.6" fill="#03080f"/>
<rect x="78.46" y="124" width="3.8" height="6.6" fill="#f3dce4"/>
<rect x="78.71" y="124.2" width="3.3" height="6.2" fill="#7a2a3c"/>
<rect x="79.46" y="125.2" width="1.8" height="4.2" fill="#ead0d8"/>
<rect x="86.12" y="124.05" width="4.1" height="6.5" fill="#a8f2fc"/>
<rect x="86.77" y="124.6" width="2.8" height="5.4" fill="#1c7fbe"/>
<rect x="97.78" y="123.65" width="4.22" height="7.3" fill="#e2d2da"/>
<rect x="97.78" y="124.15" width="4.22" height="6.3" fill="#6e5a72"/>
<rect x="98.44" y="124.25" width="2.9" height="6.1" fill="#443248"/>
<rect x="98.99" y="125.05" width="1.8" height="4.5" fill="#6c6080"/>
<rect x="105.59" y="123.65" width="4.22" height="7.3" fill="#e2d2da"/>
<rect x="105.59" y="124.15" width="4.22" height="6.3" fill="#6e5a72"/>
<rect x="106.25" y="124.25" width="2.9" height="6.1" fill="#443248"/>
<rect x="106.8" y="125.05" width="1.8" height="4.5" fill="#6c6080"/>
<rect x="183.77" y="124.05" width="4.1" height="6.5" fill="#a8f2fc"/>
<rect x="184.42" y="124.6" width="2.8" height="5.4" fill="#1c7fbe"/>
<rect x="238.45" y="124.05" width="4.1" height="6.5" fill="#a8f2fc"/>
<rect x="239.1" y="124.6" width="2.8" height="5.4" fill="#1c7fbe"/>
<rect x="250.17" y="124.05" width="4.1" height="6.5" fill="#a8f2fc"/>
<rect x="250.82" y="124.6" width="2.8" height="5.4" fill="#1c7fbe"/>
<rect x="74.34" y="130.35" width="4.22" height="7.3" fill="#e2d2da"/>
<rect x="74.34" y="130.85" width="4.22" height="6.3" fill="#6e5a72"/>
<rect x="75" y="130.95" width="2.9" height="6.1" fill="#443248"/>
<rect x="75.55" y="131.75" width="1.8" height="4.5" fill="#6c6080"/>
<rect x="78.25" y="130.35" width="4.22" height="7.3" fill="#ecc0d0"/>
<rect x="78.25" y="130.85" width="4.22" height="6.3" fill="#9a4c70"/>
<rect x="78.91" y="130.95" width="2.9" height="6.1" fill="#48244a"/>
<rect x="79.46" y="131.75" width="1.8" height="4.5" fill="#3a84bc"/>
<rect x="82.15" y="130.35" width="4.22" height="7.3" fill="#ecc0d0"/>
<rect x="82.15" y="130.85" width="4.22" height="6.3" fill="#9a4c70"/>
<rect x="82.81" y="130.95" width="2.9" height="6.1" fill="#48244a"/>
<rect x="83.36" y="131.75" width="1.8" height="4.5" fill="#3a84bc"/>
<rect x="93.87" y="130.35" width="4.22" height="7.3" fill="#ecc0d0"/>
<rect x="93.87" y="130.85" width="4.22" height="6.3" fill="#9a4c70"/>
<rect x="94.53" y="130.95" width="2.9" height="6.1" fill="#48244a"/>
<rect x="95.08" y="131.75" width="1.8" height="4.5" fill="#3a84bc"/>
<rect x="97.78" y="130.35" width="4.22" height="7.3" fill="#ecc0d0"/>
<rect x="97.78" y="130.85" width="4.22" height="6.3" fill="#9a4c70"/>
<rect x="98.44" y="130.95" width="2.9" height="6.1" fill="#48244a"/>
<rect x="98.99" y="131.75" width="1.8" height="4.5" fill="#3a84bc"/>
<rect x="203.3" y="130.75" width="4.1" height="6.5" fill="#a0eefa"/>
<rect x="203.95" y="131.3" width="2.8" height="5.4" fill="#0e3452"/>
<rect x="204.5" y="132.2" width="1.7" height="3.6" fill="#03080f"/>
<rect x="207.14" y="130.35" width="4.22" height="7.3" fill="#ecc0d0"/>
<rect x="207.14" y="130.85" width="4.22" height="6.3" fill="#9a4c70"/>
<rect x="207.8" y="130.95" width="2.9" height="6.1" fill="#48244a"/>
<rect x="208.35" y="131.75" width="1.8" height="4.5" fill="#3a84bc"/>
<rect x="211.05" y="130.35" width="4.22" height="7.3" fill="#ecc0d0"/>
<rect x="211.05" y="130.85" width="4.22" height="6.3" fill="#9a4c70"/>
<rect x="211.71" y="130.95" width="2.9" height="6.1" fill="#48244a"/>
<rect x="212.26" y="131.75" width="1.8" height="4.5" fill="#3a84bc"/>
<rect x="218.86" y="130.35" width="4.22" height="7.3" fill="#ecc0d0"/>
<rect x="218.86" y="130.85" width="4.22" height="6.3" fill="#9a4c70"/>
<rect x="219.52" y="130.95" width="2.9" height="6.1" fill="#48244a"/>
<rect x="220.07" y="131.75" width="1.8" height="4.5" fill="#3a84bc"/>
<rect x="230.58" y="130.35" width="4.22" height="7.3" fill="#ecc0d0"/>
<rect x="230.58" y="130.85" width="4.22" height="6.3" fill="#9a4c70"/>
<rect x="231.24" y="130.95" width="2.9" height="6.1" fill="#48244a"/>
<rect x="231.79" y="131.75" width="1.8" height="4.5" fill="#3a84bc"/>
<rect x="242.3" y="130.35" width="4.22" height="7.3" fill="#ecc0d0"/>
<rect x="242.3" y="130.85" width="4.22" height="6.3" fill="#9a4c70"/>
<rect x="242.96" y="130.95" width="2.9" height="6.1" fill="#48244a"/>
<rect x="243.51" y="131.75" width="1.8" height="4.5" fill="#3a84bc"/>
<rect x="296.98" y="130.35" width="4.22" height="7.3" fill="#ecc0d0"/>
<rect x="296.98" y="130.85" width="4.22" height="6.3" fill="#9a4c70"/>
<rect x="297.64" y="130.95" width="2.9" height="6.1" fill="#48244a"/>
<rect x="298.19" y="131.75" width="1.8" height="4.5" fill="#3a84bc"/>
<rect x="113.46" y="137.45" width="4.1" height="6.5" fill="#a8f2fc"/>
<rect x="114.11" y="138" width="2.8" height="5.4" fill="#1c7fbe"/>
<rect x="117.37" y="137.45" width="4.1" height="6.5" fill="#a8f2fc"/>
<rect x="118.02" y="138" width="2.8" height="5.4" fill="#1c7fbe"/>
<rect x="121.27" y="137.45" width="4.1" height="6.5" fill="#a8f2fc"/>
<rect x="121.92" y="138" width="2.8" height="5.4" fill="#1c7fbe"/>
<rect x="125.18" y="144.15" width="4.1" height="6.5" fill="#a8f2fc"/>
<rect x="125.83" y="144.7" width="2.8" height="5.4" fill="#1c7fbe"/>
<rect x="129.28" y="144.3" width="3.7" height="6.2" fill="#cfe6f6"/>
<rect x="129.68" y="144.7" width="2.9" height="5.4" fill="#5e8cc0"/>
<rect x="152.52" y="144.15" width="4.1" height="6.5" fill="#a0eefa"/>
<rect x="153.17" y="144.7" width="2.8" height="5.4" fill="#0e3452"/>
<rect x="153.72" y="145.6" width="1.7" height="3.6" fill="#03080f"/>
<rect x="179.86" y="144.15" width="4.1" height="6.5" fill="#a8f2fc"/>
<rect x="180.51" y="144.7" width="2.8" height="5.4" fill="#1c7fbe"/>
<rect x="187.87" y="144.3" width="3.7" height="6.2" fill="#cfe6f6"/>
<rect x="188.27" y="144.7" width="2.9" height="5.4" fill="#5e8cc0"/>
<rect x="215.02" y="144.15" width="4.1" height="6.5" fill="#a8f2fc"/>
<rect x="215.67" y="144.7" width="2.8" height="5.4" fill="#1c7fbe"/>
<rect x="234.55" y="144.15" width="4.1" height="6.5" fill="#a8f2fc"/>
<rect x="235.2" y="144.7" width="2.8" height="5.4" fill="#1c7fbe"/>
<rect x="238.45" y="144.15" width="4.1" height="6.5" fill="#a8f2fc"/>
<rect x="239.1" y="144.7" width="2.8" height="5.4" fill="#1c7fbe"/>
<rect x="242.36" y="144.15" width="4.1" height="6.5" fill="#a8f2fc"/>
<rect x="243.01" y="144.7" width="2.8" height="5.4" fill="#1c7fbe"/>
<rect x="297.04" y="144.15" width="4.1" height="6.5" fill="#a8f2fc"/>
<rect x="297.69" y="144.7" width="2.8" height="5.4" fill="#1c7fbe"/>
<rect x="300.95" y="144.15" width="4.1" height="6.5" fill="#a8f2fc"/>
<rect x="301.6" y="144.7" width="2.8" height="5.4" fill="#1c7fbe"/>
<rect x="337.93" y="144.15" width="4.1" height="6.5" fill="#a8f2fc"/>
<rect x="338.58" y="144.7" width="2.8" height="5.4" fill="#1c7fbe"/>
<rect x="365.27" y="144.15" width="4.1" height="6.5" fill="#a0eefa"/>
<rect x="365.92" y="144.7" width="2.8" height="5.4" fill="#0e3452"/>
<rect x="366.47" y="145.6" width="1.7" height="3.6" fill="#03080f"/>
<rect x="203.3" y="150.85" width="4.1" height="6.5" fill="#a8f2fc"/>
<rect x="203.95" y="151.4" width="2.8" height="5.4" fill="#1c7fbe"/>
<rect x="470.73" y="150.85" width="4.1" height="6.5" fill="#a8f2fc"/>
<rect x="471.38" y="151.4" width="2.8" height="5.4" fill="#1c7fbe"/>
<rect x="222.83" y="157.55" width="4.1" height="6.5" fill="#a8f2fc"/>
<rect x="223.48" y="158.1" width="2.8" height="5.4" fill="#1c7fbe"/>
<rect x="226.73" y="157.55" width="4.1" height="6.5" fill="#a8f2fc"/>
<rect x="227.38" y="158.1" width="2.8" height="5.4" fill="#1c7fbe"/>
<rect x="246.26" y="157.55" width="4.1" height="6.5" fill="#a8f2fc"/>
<rect x="246.91" y="158.1" width="2.8" height="5.4" fill="#1c7fbe"/>
<rect x="250.17" y="157.55" width="4.1" height="6.5" fill="#a8f2fc"/>
<rect x="250.82" y="158.1" width="2.8" height="5.4" fill="#1c7fbe"/>
<rect x="93.93" y="164.25" width="4.1" height="6.5" fill="#a8f2fc"/>
<rect x="94.58" y="164.8" width="2.8" height="5.4" fill="#1c7fbe"/>
<rect x="132.99" y="164.25" width="4.1" height="6.5" fill="#a8f2fc"/>
<rect x="133.64" y="164.8" width="2.8" height="5.4" fill="#1c7fbe"/>
<rect x="136.9" y="164.25" width="4.1" height="6.5" fill="#a8f2fc"/>
<rect x="137.55" y="164.8" width="2.8" height="5.4" fill="#1c7fbe"/>
<rect x="408.44" y="171.1" width="3.7" height="6.2" fill="#cfe6f6"/>
<rect x="408.84" y="171.5" width="2.9" height="5.4" fill="#5e8cc0"/>
<rect x="234.55" y="177.65" width="4.1" height="6.5" fill="#a8f2fc"/>
<rect x="235.2" y="178.2" width="2.8" height="5.4" fill="#1c7fbe"/>
<rect x="250.17" y="184.35" width="4.1" height="6.5" fill="#a8f2fc"/>
<rect x="250.82" y="184.9" width="2.8" height="5.4" fill="#1c7fbe"/>
<rect x="365.27" y="184.35" width="4.1" height="6.5" fill="#a8f2fc"/>
<rect x="365.92" y="184.9" width="2.8" height="5.4" fill="#1c7fbe"/>
<rect x="101.74" y="191.05" width="4.1" height="6.5" fill="#a8f2fc"/>
<rect x="102.39" y="191.6" width="2.8" height="5.4" fill="#1c7fbe"/>
<rect x="218.92" y="191.05" width="4.1" height="6.5" fill="#a8f2fc"/>
<rect x="219.57" y="191.6" width="2.8" height="5.4" fill="#1c7fbe"/>
<rect x="293.14" y="197.75" width="4.1" height="6.5" fill="#a8f2fc"/>
<rect x="293.79" y="198.3" width="2.8" height="5.4" fill="#1c7fbe"/>
<rect x="308.76" y="197.75" width="4.1" height="6.5" fill="#a8f2fc"/>
<rect x="309.41" y="198.3" width="2.8" height="5.4" fill="#1c7fbe"/>
<rect x="365.27" y="197.75" width="4.1" height="6.5" fill="#a8f2fc"/>
<rect x="365.92" y="198.3" width="2.8" height="5.4" fill="#1c7fbe"/>
<rect x="388.71" y="197.75" width="4.1" height="6.5" fill="#a8f2fc"/>
<rect x="389.36" y="198.3" width="2.8" height="5.4" fill="#1c7fbe"/>
<rect x="304.85" y="204.45" width="4.1" height="6.5" fill="#a0eefa"/>
<rect x="305.5" y="205" width="2.8" height="5.4" fill="#0e3452"/>
<rect x="306.05" y="205.9" width="1.7" height="3.6" fill="#03080f"/>
<rect x="419.96" y="204.45" width="4.1" height="6.5" fill="#a8f2fc"/>
<rect x="420.61" y="205" width="2.8" height="5.4" fill="#1c7fbe"/>
<rect x="423.86" y="204.45" width="4.1" height="6.5" fill="#a0eefa"/>
<rect x="424.51" y="205" width="2.8" height="5.4" fill="#0e3452"/>
<rect x="425.06" y="205.9" width="1.7" height="3.6" fill="#03080f"/>
<rect x="427.77" y="204.45" width="4.1" height="6.5" fill="#a8f2fc"/>
<rect x="428.42" y="205" width="2.8" height="5.4" fill="#1c7fbe"/>
<rect x="431.67" y="204.45" width="4.1" height="6.5" fill="#a0eefa"/>
<rect x="432.32" y="205" width="2.8" height="5.4" fill="#2a7898"/>
<rect x="432.87" y="206.6" width="1.7" height="2.2" fill="#03080f"/>
<rect x="435.58" y="204.45" width="4.1" height="6.5" fill="#a0eefa"/>
<rect x="436.23" y="205" width="2.8" height="5.4" fill="#0e3452"/>
<rect x="436.78" y="205.9" width="1.7" height="3.6" fill="#03080f"/>
<rect x="439.49" y="204.45" width="4.1" height="6.5" fill="#a8f2fc"/>
<rect x="440.14" y="205" width="2.8" height="5.4" fill="#1c7fbe"/>
<rect x="443.39" y="204.45" width="4.1" height="6.5" fill="#a0eefa"/>
<rect x="444.04" y="205" width="2.8" height="5.4" fill="#0e3452"/>
<rect x="444.59" y="205.9" width="1.7" height="3.6" fill="#03080f"/>
<rect x="447.3" y="204.45" width="4.1" height="6.5" fill="#a0eefa"/>
<rect x="447.95" y="205" width="2.8" height="5.4" fill="#0e3452"/>
<rect x="448.5" y="205.9" width="1.7" height="3.6" fill="#03080f"/>
<rect x="451.2" y="204.45" width="4.1" height="6.5" fill="#a0eefa"/>
<rect x="451.85" y="205" width="2.8" height="5.4" fill="#2a7898"/>
<rect x="452.4" y="206.6" width="1.7" height="2.2" fill="#03080f"/>
<rect x="455.11" y="204.45" width="4.1" height="6.5" fill="#a0eefa"/>
<rect x="455.76" y="205" width="2.8" height="5.4" fill="#2a7898"/>
<rect x="456.31" y="206.6" width="1.7" height="2.2" fill="#03080f"/>
<rect x="490.26" y="204.45" width="4.1" height="6.5" fill="#a8f2fc"/>
<rect x="490.91" y="205" width="2.8" height="5.4" fill="#1c7fbe"/>
<rect x="494.17" y="204.45" width="4.1" height="6.5" fill="#a8f2fc"/>
<rect x="494.82" y="205" width="2.8" height="5.4" fill="#1c7fbe"/>
<rect x="273.61" y="211.15" width="4.1" height="6.5" fill="#a8f2fc"/>
<rect x="274.26" y="211.7" width="2.8" height="5.4" fill="#1c7fbe"/>
<rect x="289.23" y="211.15" width="4.1" height="6.5" fill="#a8f2fc"/>
<rect x="289.88" y="211.7" width="2.8" height="5.4" fill="#1c7fbe"/>
<rect x="293.14" y="211.15" width="4.1" height="6.5" fill="#a8f2fc"/>
<rect x="293.79" y="211.7" width="2.8" height="5.4" fill="#1c7fbe"/>
<rect x="322.31" y="211.15" width="4.1" height="6.5" fill="#a8f2fc"/>
<rect x="322.96" y="211.7" width="2.8" height="5.4" fill="#1c7fbe"/>
<rect x="330.12" y="211.15" width="4.1" height="6.5" fill="#a8f2fc"/>
<rect x="330.77" y="211.7" width="2.8" height="5.4" fill="#1c7fbe"/>
<rect x="345.74" y="211.15" width="4.1" height="6.5" fill="#a8f2fc"/>
<rect x="346.39" y="211.7" width="2.8" height="5.4" fill="#1c7fbe"/>
<rect x="365.27" y="211.15" width="4.1" height="6.5" fill="#a8f2fc"/>
<rect x="365.92" y="211.7" width="2.8" height="5.4" fill="#1c7fbe"/>
<rect x="369.18" y="211.15" width="4.1" height="6.5" fill="#a8f2fc"/>
<rect x="369.83" y="211.7" width="2.8" height="5.4" fill="#1c7fbe"/>
<rect x="373.08" y="211.15" width="4.1" height="6.5" fill="#a8f2fc"/>
<rect x="373.73" y="211.7" width="2.8" height="5.4" fill="#1c7fbe"/>
<rect x="376.99" y="211.15" width="4.1" height="6.5" fill="#a8f2fc"/>
<rect x="377.64" y="211.7" width="2.8" height="5.4" fill="#1c7fbe"/>
<rect x="380.9" y="211.15" width="4.1" height="6.5" fill="#a8f2fc"/>
<rect x="381.55" y="211.7" width="2.8" height="5.4" fill="#1c7fbe"/>
<rect x="384.8" y="211.15" width="4.1" height="6.5" fill="#a8f2fc"/>
<rect x="385.45" y="211.7" width="2.8" height="5.4" fill="#1c7fbe"/>
<rect x="388.71" y="211.15" width="4.1" height="6.5" fill="#a8f2fc"/>
<rect x="389.36" y="211.7" width="2.8" height="5.4" fill="#1c7fbe"/>
<rect x="396.52" y="211.15" width="4.1" height="6.5" fill="#a8f2fc"/>
<rect x="397.17" y="211.7" width="2.8" height="5.4" fill="#1c7fbe"/>
<rect x="97.84" y="217.85" width="4.1" height="6.5" fill="#a8f2fc"/>
<rect x="98.49" y="218.4" width="2.8" height="5.4" fill="#1c7fbe"/>
<rect x="273.61" y="217.85" width="4.1" height="6.5" fill="#a0eefa"/>
<rect x="274.26" y="218.4" width="2.8" height="5.4" fill="#2a7898"/>
<rect x="274.81" y="220" width="1.7" height="2.2" fill="#03080f"/>
<rect x="345.74" y="217.85" width="4.1" height="6.5" fill="#a8f2fc"/>
<rect x="346.39" y="218.4" width="2.8" height="5.4" fill="#1c7fbe"/>
<rect x="277.51" y="224.55" width="4.1" height="6.5" fill="#a8f2fc"/>
<rect x="278.16" y="225.1" width="2.8" height="5.4" fill="#1c7fbe"/>
<rect x="361.37" y="224.55" width="4.1" height="6.5" fill="#a8f2fc"/>
<rect x="362.02" y="225.1" width="2.8" height="5.4" fill="#1c7fbe"/>
<rect x="455.11" y="224.55" width="4.1" height="6.5" fill="#a8f2fc"/>
<rect x="455.76" y="225.1" width="2.8" height="5.4" fill="#1c7fbe"/>
<rect x="101.74" y="231.25" width="4.1" height="6.5" fill="#a8f2fc"/>
<rect x="102.39" y="231.8" width="2.8" height="5.4" fill="#1c7fbe"/>
<rect x="349.65" y="231.25" width="4.1" height="6.5" fill="#a8f2fc"/>
<rect x="350.3" y="231.8" width="2.8" height="5.4" fill="#1c7fbe"/>
<rect x="353.55" y="231.25" width="4.1" height="6.5" fill="#a8f2fc"/>
<rect x="354.2" y="231.8" width="2.8" height="5.4" fill="#1c7fbe"/>
<rect x="376.99" y="231.25" width="4.1" height="6.5" fill="#a8f2fc"/>
<rect x="377.64" y="231.8" width="2.8" height="5.4" fill="#1c7fbe"/>
<rect x="404.33" y="231.25" width="4.1" height="6.5" fill="#a8f2fc"/>
<rect x="404.98" y="231.8" width="2.8" height="5.4" fill="#1c7fbe"/>
<rect x="408.24" y="231.25" width="4.1" height="6.5" fill="#a8f2fc"/>
<rect x="408.89" y="231.8" width="2.8" height="5.4" fill="#1c7fbe"/>
<rect x="412.14" y="231.25" width="4.1" height="6.5" fill="#a8f2fc"/>
<rect x="412.79" y="231.8" width="2.8" height="5.4" fill="#1c7fbe"/>
<rect x="238.45" y="237.95" width="4.1" height="6.5" fill="#a8f2fc"/>
<rect x="239.1" y="238.5" width="2.8" height="5.4" fill="#1c7fbe"/>
<rect x="334.02" y="237.95" width="4.1" height="6.5" fill="#a8f2fc"/>
<rect x="334.67" y="238.5" width="2.8" height="5.4" fill="#1c7fbe"/>
<rect x="345.74" y="237.95" width="4.1" height="6.5" fill="#a8f2fc"/>
<rect x="346.39" y="238.5" width="2.8" height="5.4" fill="#1c7fbe"/>
<rect x="361.37" y="237.95" width="4.1" height="6.5" fill="#a8f2fc"/>
<rect x="362.02" y="238.5" width="2.8" height="5.4" fill="#1c7fbe"/>
<rect x="365.27" y="237.95" width="4.1" height="6.5" fill="#a8f2fc"/>
<rect x="365.92" y="238.5" width="2.8" height="5.4" fill="#1c7fbe"/>
<rect x="380.9" y="237.95" width="4.1" height="6.5" fill="#a8f2fc"/>
<rect x="381.55" y="238.5" width="2.8" height="5.4" fill="#1c7fbe"/>
<rect x="384.8" y="237.95" width="4.1" height="6.5" fill="#a8f2fc"/>
<rect x="385.45" y="238.5" width="2.8" height="5.4" fill="#1c7fbe"/>
<rect x="396.52" y="237.95" width="4.1" height="6.5" fill="#a8f2fc"/>
<rect x="397.17" y="238.5" width="2.8" height="5.4" fill="#1c7fbe"/>
<rect x="416.05" y="237.95" width="4.1" height="6.5" fill="#a8f2fc"/>
<rect x="416.7" y="238.5" width="2.8" height="5.4" fill="#1c7fbe"/>
<rect x="199.39" y="244.65" width="4.1" height="6.5" fill="#a8f2fc"/>
<rect x="200.04" y="245.2" width="2.8" height="5.4" fill="#1c7fbe"/>
<rect x="330.12" y="244.65" width="4.1" height="6.5" fill="#a8f2fc"/>
<rect x="330.77" y="245.2" width="2.8" height="5.4" fill="#1c7fbe"/>
<rect x="341.84" y="244.65" width="4.1" height="6.5" fill="#a8f2fc"/>
<rect x="342.49" y="245.2" width="2.8" height="5.4" fill="#1c7fbe"/>
<rect x="459.02" y="244.65" width="4.1" height="6.5" fill="#a8f2fc"/>
<rect x="459.67" y="245.2" width="2.8" height="5.4" fill="#1c7fbe"/>
<rect x="466.83" y="244.65" width="4.1" height="6.5" fill="#a8f2fc"/>
<rect x="467.48" y="245.2" width="2.8" height="5.4" fill="#1c7fbe"/>
<rect x="250.17" y="251.35" width="4.1" height="6.5" fill="#a8f2fc"/>
<rect x="250.82" y="251.9" width="2.8" height="5.4" fill="#1c7fbe"/>
<rect x="140.8" y="258.05" width="4.1" height="6.5" fill="#a8f2fc"/>
<rect x="141.45" y="258.6" width="2.8" height="5.4" fill="#1c7fbe"/>
<rect x="144.71" y="258.05" width="4.1" height="6.5" fill="#a8f2fc"/>
<rect x="145.36" y="258.6" width="2.8" height="5.4" fill="#1c7fbe"/>
<rect x="498.08" y="258.05" width="4.1" height="6.5" fill="#a8f2fc"/>
<rect x="498.73" y="258.6" width="2.8" height="5.4" fill="#1c7fbe"/>
<rect x="164.24" y="264.75" width="4.1" height="6.5" fill="#a8f2fc"/>
<rect x="164.89" y="265.3" width="2.8" height="5.4" fill="#1c7fbe"/>
<rect x="195.49" y="264.75" width="4.1" height="6.5" fill="#a8f2fc"/>
<rect x="196.14" y="265.3" width="2.8" height="5.4" fill="#1c7fbe"/>
<rect x="218.92" y="264.75" width="4.1" height="6.5" fill="#a8f2fc"/>
<rect x="219.57" y="265.3" width="2.8" height="5.4" fill="#1c7fbe"/>
<rect x="345.74" y="264.75" width="4.1" height="6.5" fill="#a8f2fc"/>
<rect x="346.39" y="265.3" width="2.8" height="5.4" fill="#1c7fbe"/>
<rect x="384.8" y="264.75" width="4.1" height="6.5" fill="#a8f2fc"/>
<rect x="385.45" y="265.3" width="2.8" height="5.4" fill="#1c7fbe"/>
<rect x="388.71" y="264.75" width="4.1" height="6.5" fill="#a8f2fc"/>
<rect x="389.36" y="265.3" width="2.8" height="5.4" fill="#1c7fbe"/>
<rect x="396.52" y="264.75" width="4.1" height="6.5" fill="#a8f2fc"/>
<rect x="397.17" y="265.3" width="2.8" height="5.4" fill="#1c7fbe"/>
<rect x="462.92" y="264.75" width="4.1" height="6.5" fill="#a8f2fc"/>
<rect x="463.57" y="265.3" width="2.8" height="5.4" fill="#1c7fbe"/>
<rect x="365.27" y="271.45" width="4.1" height="6.5" fill="#a8f2fc"/>
<rect x="365.92" y="272" width="2.8" height="5.4" fill="#1c7fbe"/>
<rect x="285.26" y="279.35" width="4.22" height="7.3" fill="#e2d2da"/>
<rect x="285.26" y="279.85" width="4.22" height="6.3" fill="#6e5a72"/>
<rect x="285.92" y="279.95" width="2.9" height="6.1" fill="#443248"/>
<rect x="286.47" y="280.75" width="1.8" height="4.5" fill="#6c6080"/>
<rect x="304.79" y="279.35" width="4.22" height="7.3" fill="#e2d2da"/>
<rect x="304.79" y="279.85" width="4.22" height="6.3" fill="#6e5a72"/>
<rect x="305.45" y="279.95" width="2.9" height="6.1" fill="#443248"/>
<rect x="306" y="280.75" width="1.8" height="4.5" fill="#6c6080"/>
<rect x="326.15" y="279.35" width="4.22" height="7.3" fill="#e2d2da"/>
<rect x="326.15" y="279.85" width="4.22" height="6.3" fill="#6e5a72"/>
<rect x="326.81" y="279.95" width="2.9" height="6.1" fill="#443248"/>
<rect x="327.36" y="280.75" width="1.8" height="4.5" fill="#6c6080"/>
<rect x="392.76" y="279.7" width="3.8" height="6.6" fill="#f3dce4"/>
<rect x="393.01" y="279.9" width="3.3" height="6.2" fill="#7a2a3c"/>
<rect x="393.76" y="280.9" width="1.8" height="4.2" fill="#ead0d8"/>
<rect x="400.37" y="279.35" width="4.22" height="7.3" fill="#e2d2da"/>
<rect x="400.37" y="279.85" width="4.22" height="6.3" fill="#6e5a72"/>
<rect x="401.03" y="279.95" width="2.9" height="6.1" fill="#443248"/>
<rect x="401.58" y="280.75" width="1.8" height="4.5" fill="#6c6080"/>
<rect x="408.39" y="279.7" width="3.8" height="6.6" fill="#f3dce4"/>
<rect x="408.64" y="279.9" width="3.3" height="6.2" fill="#7a2a3c"/>
<rect x="409.39" y="280.9" width="1.8" height="4.2" fill="#ead0d8"/>
<rect x="420.11" y="279.7" width="3.8" height="6.6" fill="#f6e6ea"/>
<rect x="420.66" y="280.1" width="2.7" height="5.8" fill="#f6eaee" stroke="#b8485e" stroke-width="0.6" stroke-dasharray="0.9 0.7"/>
<rect x="423.8" y="279.35" width="4.22" height="7.3" fill="#e2d2da"/>
<rect x="423.8" y="279.85" width="4.22" height="6.3" fill="#6e5a72"/>
<rect x="424.46" y="279.95" width="2.9" height="6.1" fill="#443248"/>
<rect x="425.01" y="280.75" width="1.8" height="4.5" fill="#6c6080"/>
<rect x="427.71" y="279.35" width="4.22" height="7.3" fill="#ecc0d0"/>
<rect x="427.71" y="279.85" width="4.22" height="6.3" fill="#9a4c70"/>
<rect x="428.37" y="279.95" width="2.9" height="6.1" fill="#48244a"/>
<rect x="428.92" y="280.75" width="1.8" height="4.5" fill="#3a84bc"/>
<rect x="431.61" y="279.35" width="4.22" height="7.3" fill="#ecc0d0"/>
<rect x="431.61" y="279.85" width="4.22" height="6.3" fill="#9a4c70"/>
<rect x="432.27" y="279.95" width="2.9" height="6.1" fill="#48244a"/>
<rect x="432.82" y="280.75" width="1.8" height="4.5" fill="#3a84bc"/>
<rect x="435.52" y="279.35" width="4.22" height="7.3" fill="#ecc0d0"/>
<rect x="435.52" y="279.85" width="4.22" height="6.3" fill="#9a4c70"/>
<rect x="436.18" y="279.95" width="2.9" height="6.1" fill="#48244a"/>
<rect x="436.73" y="280.75" width="1.8" height="4.5" fill="#3a84bc"/>
<rect x="439.43" y="279.35" width="4.22" height="7.3" fill="#ecc0d0"/>
<rect x="439.43" y="279.85" width="4.22" height="6.3" fill="#9a4c70"/>
<rect x="440.09" y="279.95" width="2.9" height="6.1" fill="#48244a"/>
<rect x="440.64" y="280.75" width="1.8" height="4.5" fill="#3a84bc"/>
<rect x="443.33" y="279.35" width="4.22" height="7.3" fill="#ecc0d0"/>
<rect x="443.33" y="279.85" width="4.22" height="6.3" fill="#9a4c70"/>
<rect x="443.99" y="279.95" width="2.9" height="6.1" fill="#48244a"/>
<rect x="444.54" y="280.75" width="1.8" height="4.5" fill="#3a84bc"/>
<rect x="447.24" y="279.35" width="4.22" height="7.3" fill="#ecc0d0"/>
<rect x="447.24" y="279.85" width="4.22" height="6.3" fill="#9a4c70"/>
<rect x="447.9" y="279.95" width="2.9" height="6.1" fill="#48244a"/>
<rect x="448.45" y="280.75" width="1.8" height="4.5" fill="#3a84bc"/>
<rect x="451.14" y="279.35" width="4.22" height="7.3" fill="#ecc0d0"/>
<rect x="451.14" y="279.85" width="4.22" height="6.3" fill="#9a4c70"/>
<rect x="451.8" y="279.95" width="2.9" height="6.1" fill="#48244a"/>
<rect x="452.35" y="280.75" width="1.8" height="4.5" fill="#3a84bc"/>
<rect x="455.05" y="279.35" width="4.22" height="7.3" fill="#ecc0d0"/>
<rect x="455.05" y="279.85" width="4.22" height="6.3" fill="#9a4c70"/>
<rect x="455.71" y="279.95" width="2.9" height="6.1" fill="#48244a"/>
<rect x="456.26" y="280.75" width="1.8" height="4.5" fill="#3a84bc"/>
<rect x="478.49" y="279.35" width="4.22" height="7.3" fill="#e2d2da"/>
<rect x="478.49" y="279.85" width="4.22" height="6.3" fill="#6e5a72"/>
<rect x="479.15" y="279.95" width="2.9" height="6.1" fill="#443248"/>
<rect x="479.7" y="280.75" width="1.8" height="4.5" fill="#6c6080"/>
<rect x="490.2" y="279.35" width="4.22" height="7.3" fill="#e2d2da"/>
<rect x="490.2" y="279.85" width="4.22" height="6.3" fill="#6e5a72"/>
<rect x="490.86" y="279.95" width="2.9" height="6.1" fill="#443248"/>
<rect x="491.41" y="280.75" width="1.8" height="4.5" fill="#6c6080"/>
<rect x="494.11" y="279.35" width="4.22" height="7.3" fill="#e2d2da"/>
<rect x="494.11" y="279.85" width="4.22" height="6.3" fill="#6e5a72"/>
<rect x="494.77" y="279.95" width="2.9" height="6.1" fill="#443248"/>
<rect x="495.32" y="280.75" width="1.8" height="4.5" fill="#6c6080"/>
<rect x="265.73" y="286.05" width="4.22" height="7.3" fill="#e2d2da"/>
<rect x="265.73" y="286.55" width="4.22" height="6.3" fill="#6e5a72"/>
<rect x="266.39" y="286.65" width="2.9" height="6.1" fill="#443248"/>
<rect x="266.94" y="287.45" width="1.8" height="4.5" fill="#6c6080"/>
<rect x="304.79" y="286.05" width="4.22" height="7.3" fill="#ecc0d0"/>
<rect x="304.79" y="286.55" width="4.22" height="6.3" fill="#9a4c70"/>
<rect x="305.45" y="286.65" width="2.9" height="6.1" fill="#48244a"/>
<rect x="306" y="287.45" width="1.8" height="4.5" fill="#3a84bc"/>
<rect x="322.25" y="286.05" width="4.22" height="7.3" fill="#e2d2da"/>
<rect x="322.25" y="286.55" width="4.22" height="6.3" fill="#6e5a72"/>
<rect x="322.91" y="286.65" width="2.9" height="6.1" fill="#443248"/>
<rect x="323.46" y="287.45" width="1.8" height="4.5" fill="#6c6080"/>
<rect x="373.23" y="286.4" width="3.8" height="6.6" fill="#f6e6ea"/>
<rect x="373.78" y="286.8" width="2.7" height="5.8" fill="#f6eaee" stroke="#b8485e" stroke-width="0.6" stroke-dasharray="0.9 0.7"/>
<rect x="420.11" y="286.4" width="3.8" height="6.6" fill="#f6e6ea"/>
<rect x="420.66" y="286.8" width="2.7" height="5.8" fill="#f6eaee" stroke="#b8485e" stroke-width="0.6" stroke-dasharray="0.9 0.7"/>
<rect x="427.71" y="286.05" width="4.22" height="7.3" fill="#ecc0d0"/>
<rect x="427.71" y="286.55" width="4.22" height="6.3" fill="#9a4c70"/>
<rect x="428.37" y="286.65" width="2.9" height="6.1" fill="#48244a"/>
<rect x="428.92" y="287.45" width="1.8" height="4.5" fill="#3a84bc"/>
<rect x="431.61" y="286.05" width="4.22" height="7.3" fill="#ecc0d0"/>
<rect x="431.61" y="286.55" width="4.22" height="6.3" fill="#9a4c70"/>
<rect x="432.27" y="286.65" width="2.9" height="6.1" fill="#48244a"/>
<rect x="432.82" y="287.45" width="1.8" height="4.5" fill="#3a84bc"/>
<rect x="439.43" y="286.05" width="4.22" height="7.3" fill="#ecc0d0"/>
<rect x="439.43" y="286.55" width="4.22" height="6.3" fill="#9a4c70"/>
<rect x="440.09" y="286.65" width="2.9" height="6.1" fill="#48244a"/>
<rect x="440.64" y="287.45" width="1.8" height="4.5" fill="#3a84bc"/>
<rect x="443.33" y="286.05" width="4.22" height="7.3" fill="#ecc0d0"/>
<rect x="443.33" y="286.55" width="4.22" height="6.3" fill="#9a4c70"/>
<rect x="443.99" y="286.65" width="2.9" height="6.1" fill="#48244a"/>
<rect x="444.54" y="287.45" width="1.8" height="4.5" fill="#3a84bc"/>
<rect x="451.14" y="286.05" width="4.22" height="7.3" fill="#ecc0d0"/>
<rect x="451.14" y="286.55" width="4.22" height="6.3" fill="#9a4c70"/>
<rect x="451.8" y="286.65" width="2.9" height="6.1" fill="#48244a"/>
<rect x="452.35" y="287.45" width="1.8" height="4.5" fill="#3a84bc"/>
<rect x="482.39" y="286.05" width="4.22" height="7.3" fill="#e2d2da"/>
<rect x="482.39" y="286.55" width="4.22" height="6.3" fill="#6e5a72"/>
<rect x="483.05" y="286.65" width="2.9" height="6.1" fill="#443248"/>
<rect x="483.6" y="287.45" width="1.8" height="4.5" fill="#6c6080"/>
<rect x="113.4" y="292.75" width="4.22" height="7.3" fill="#e2d2da"/>
<rect x="113.4" y="293.25" width="4.22" height="6.3" fill="#6e5a72"/>
<rect x="114.06" y="293.35" width="2.9" height="6.1" fill="#443248"/>
<rect x="114.61" y="294.15" width="1.8" height="4.5" fill="#6c6080"/>
<rect x="234.7" y="293.1" width="3.8" height="6.6" fill="#f6e6ea"/>
<rect x="235.25" y="293.5" width="2.7" height="5.8" fill="#f6eaee" stroke="#b8485e" stroke-width="0.6" stroke-dasharray="0.9 0.7"/>
<rect x="171.99" y="299.45" width="4.22" height="7.3" fill="#e2d2da"/>
<rect x="171.99" y="299.95" width="4.22" height="6.3" fill="#6e5a72"/>
<rect x="172.65" y="300.05" width="2.9" height="6.1" fill="#443248"/>
<rect x="173.2" y="300.85" width="1.8" height="4.5" fill="#6c6080"/>
<rect x="199.33" y="299.45" width="4.22" height="7.3" fill="#e2d2da"/>
<rect x="199.33" y="299.95" width="4.22" height="6.3" fill="#6e5a72"/>
<rect x="199.99" y="300.05" width="2.9" height="6.1" fill="#443248"/>
<rect x="200.54" y="300.85" width="1.8" height="4.5" fill="#6c6080"/>
<rect x="415.99" y="299.45" width="4.22" height="7.3" fill="#e2d2da"/>
<rect x="415.99" y="299.95" width="4.22" height="6.3" fill="#6e5a72"/>
<rect x="416.65" y="300.05" width="2.9" height="6.1" fill="#443248"/>
<rect x="417.2" y="300.85" width="1.8" height="4.5" fill="#6c6080"/>
<rect x="435.52" y="299.45" width="4.22" height="7.3" fill="#ecc0d0"/>
<rect x="435.52" y="299.95" width="4.22" height="6.3" fill="#9a4c70"/>
<rect x="436.18" y="300.05" width="2.9" height="6.1" fill="#48244a"/>
<rect x="436.73" y="300.85" width="1.8" height="4.5" fill="#3a84bc"/>
<rect x="439.64" y="299.8" width="3.8" height="6.6" fill="#f3dce4"/>
<rect x="439.89" y="300" width="3.3" height="6.2" fill="#7a2a3c"/>
<rect x="440.64" y="301" width="1.8" height="4.2" fill="#ead0d8"/>
<rect x="458.96" y="299.45" width="4.22" height="7.3" fill="#e2d2da"/>
<rect x="458.96" y="299.95" width="4.22" height="6.3" fill="#6e5a72"/>
<rect x="459.62" y="300.05" width="2.9" height="6.1" fill="#443248"/>
<rect x="460.17" y="300.85" width="1.8" height="4.5" fill="#6c6080"/>
<rect x="490.2" y="299.45" width="4.22" height="7.3" fill="#e2d2da"/>
<rect x="490.2" y="299.95" width="4.22" height="6.3" fill="#6e5a72"/>
<rect x="490.86" y="300.05" width="2.9" height="6.1" fill="#443248"/>
<rect x="491.41" y="300.85" width="1.8" height="4.5" fill="#6c6080"/>
<rect x="97.78" y="306.15" width="4.22" height="7.3" fill="#e2d2da"/>
<rect x="97.78" y="306.65" width="4.22" height="6.3" fill="#6e5a72"/>
<rect x="98.44" y="306.75" width="2.9" height="6.1" fill="#443248"/>
<rect x="98.99" y="307.55" width="1.8" height="4.5" fill="#6c6080"/>
<rect x="101.68" y="306.15" width="4.22" height="7.3" fill="#e2d2da"/>
<rect x="101.68" y="306.65" width="4.22" height="6.3" fill="#6e5a72"/>
<rect x="102.34" y="306.75" width="2.9" height="6.1" fill="#443248"/>
<rect x="102.89" y="307.55" width="1.8" height="4.5" fill="#6c6080"/>
<rect x="121.21" y="306.15" width="4.22" height="7.3" fill="#e2d2da"/>
<rect x="121.21" y="306.65" width="4.22" height="6.3" fill="#6e5a72"/>
<rect x="121.87" y="306.75" width="2.9" height="6.1" fill="#443248"/>
<rect x="122.42" y="307.55" width="1.8" height="4.5" fill="#6c6080"/>
<rect x="175.9" y="306.15" width="4.22" height="7.3" fill="#e2d2da"/>
<rect x="175.9" y="306.65" width="4.22" height="6.3" fill="#6e5a72"/>
<rect x="176.56" y="306.75" width="2.9" height="6.1" fill="#443248"/>
<rect x="177.11" y="307.55" width="1.8" height="4.5" fill="#6c6080"/>
<rect x="293.29" y="306.5" width="3.8" height="6.6" fill="#f3dce4"/>
<rect x="293.54" y="306.7" width="3.3" height="6.2" fill="#7a2a3c"/>
<rect x="294.29" y="307.7" width="1.8" height="4.2" fill="#ead0d8"/>
<rect x="337.87" y="306.15" width="4.22" height="7.3" fill="#e2d2da"/>
<rect x="337.87" y="306.65" width="4.22" height="6.3" fill="#6e5a72"/>
<rect x="338.53" y="306.75" width="2.9" height="6.1" fill="#443248"/>
<rect x="339.08" y="307.55" width="1.8" height="4.5" fill="#6c6080"/>
<rect x="365.21" y="306.15" width="4.22" height="7.3" fill="#e2d2da"/>
<rect x="365.21" y="306.65" width="4.22" height="6.3" fill="#6e5a72"/>
<rect x="365.87" y="306.75" width="2.9" height="6.1" fill="#443248"/>
<rect x="366.42" y="307.55" width="1.8" height="4.5" fill="#6c6080"/>
<rect x="369.12" y="306.15" width="4.22" height="7.3" fill="#e2d2da"/>
<rect x="369.12" y="306.65" width="4.22" height="6.3" fill="#6e5a72"/>
<rect x="369.78" y="306.75" width="2.9" height="6.1" fill="#443248"/>
<rect x="370.33" y="307.55" width="1.8" height="4.5" fill="#6c6080"/>
<rect x="377.14" y="306.5" width="3.8" height="6.6" fill="#f3dce4"/>
<rect x="377.39" y="306.7" width="3.3" height="6.2" fill="#7a2a3c"/>
<rect x="378.14" y="307.7" width="1.8" height="4.2" fill="#ead0d8"/>
<rect x="396.67" y="306.5" width="3.8" height="6.6" fill="#f6e6ea"/>
<rect x="397.22" y="306.9" width="2.7" height="5.8" fill="#f6eaee" stroke="#b8485e" stroke-width="0.6" stroke-dasharray="0.9 0.7"/>
<rect x="420.11" y="306.5" width="3.8" height="6.6" fill="#f6e6ea"/>
<rect x="420.66" y="306.9" width="2.7" height="5.8" fill="#f6eaee" stroke="#b8485e" stroke-width="0.6" stroke-dasharray="0.9 0.7"/>
<rect x="458.96" y="306.15" width="4.22" height="7.3" fill="#e2d2da"/>
<rect x="458.96" y="306.65" width="4.22" height="6.3" fill="#6e5a72"/>
<rect x="459.62" y="306.75" width="2.9" height="6.1" fill="#443248"/>
<rect x="460.17" y="307.55" width="1.8" height="4.5" fill="#6c6080"/>
<rect x="466.77" y="306.15" width="4.22" height="7.3" fill="#e2d2da"/>
<rect x="466.77" y="306.65" width="4.22" height="6.3" fill="#6e5a72"/>
<rect x="467.43" y="306.75" width="2.9" height="6.1" fill="#443248"/>
<rect x="467.98" y="307.55" width="1.8" height="4.5" fill="#6c6080"/>
<rect x="486.3" y="306.15" width="4.22" height="7.3" fill="#e2d2da"/>
<rect x="486.3" y="306.65" width="4.22" height="6.3" fill="#6e5a72"/>
<rect x="486.96" y="306.75" width="2.9" height="6.1" fill="#443248"/>
<rect x="487.51" y="307.55" width="1.8" height="4.5" fill="#6c6080"/>
<rect x="74.4" y="313.25" width="4.1" height="6.5" fill="#a8f2fc"/>
<rect x="75.05" y="313.8" width="2.8" height="5.4" fill="#1c7fbe"/>
<rect x="439.49" y="313.25" width="4.1" height="6.5" fill="#a8f2fc"/>
<rect x="440.14" y="313.8" width="2.8" height="5.4" fill="#1c7fbe"/>
<rect x="490.26" y="313.25" width="4.1" height="6.5" fill="#a8f2fc"/>
<rect x="490.91" y="313.8" width="2.8" height="5.4" fill="#1c7fbe"/>
<rect x="494.11" y="312.85" width="4.22" height="7.3" fill="#e2d2da"/>
<rect x="494.11" y="313.35" width="4.22" height="6.3" fill="#6e5a72"/>
<rect x="494.77" y="313.45" width="2.9" height="6.1" fill="#443248"/>
<rect x="495.32" y="314.25" width="1.8" height="4.5" fill="#6c6080"/>
<rect x="74.4" y="319.95" width="4.1" height="6.5" fill="#a8f2fc"/>
<rect x="75.05" y="320.5" width="2.8" height="5.4" fill="#1c7fbe"/>
<rect x="113.46" y="319.95" width="4.1" height="6.5" fill="#a8f2fc"/>
<rect x="114.11" y="320.5" width="2.8" height="5.4" fill="#1c7fbe"/>
<rect x="117.37" y="319.95" width="4.1" height="6.5" fill="#a8f2fc"/>
<rect x="118.02" y="320.5" width="2.8" height="5.4" fill="#1c7fbe"/>
<rect x="136.9" y="319.95" width="4.1" height="6.5" fill="#a8f2fc"/>
<rect x="137.55" y="320.5" width="2.8" height="5.4" fill="#1c7fbe"/>
<rect x="148.61" y="319.95" width="4.1" height="6.5" fill="#a8f2fc"/>
<rect x="149.26" y="320.5" width="2.8" height="5.4" fill="#1c7fbe"/>
<rect x="160.33" y="319.95" width="4.1" height="6.5" fill="#a8f2fc"/>
<rect x="160.98" y="320.5" width="2.8" height="5.4" fill="#1c7fbe"/>
<rect x="179.86" y="319.95" width="4.1" height="6.5" fill="#a8f2fc"/>
<rect x="180.51" y="320.5" width="2.8" height="5.4" fill="#1c7fbe"/>
<rect x="277.51" y="319.95" width="4.1" height="6.5" fill="#a8f2fc"/>
<rect x="278.16" y="320.5" width="2.8" height="5.4" fill="#1c7fbe"/>
<rect x="304.85" y="319.95" width="4.1" height="6.5" fill="#a8f2fc"/>
<rect x="305.5" y="320.5" width="2.8" height="5.4" fill="#1c7fbe"/>
<rect x="312.67" y="319.95" width="4.1" height="6.5" fill="#a8f2fc"/>
<rect x="313.32" y="320.5" width="2.8" height="5.4" fill="#1c7fbe"/>
<rect x="337.93" y="319.95" width="4.1" height="6.5" fill="#a8f2fc"/>
<rect x="338.58" y="320.5" width="2.8" height="5.4" fill="#1c7fbe"/>
<rect x="423.86" y="319.95" width="4.1" height="6.5" fill="#a8f2fc"/>
<rect x="424.51" y="320.5" width="2.8" height="5.4" fill="#1c7fbe"/>
<rect x="427.77" y="319.95" width="4.1" height="6.5" fill="#a8f2fc"/>
<rect x="428.42" y="320.5" width="2.8" height="5.4" fill="#1c7fbe"/>
<rect x="435.58" y="319.95" width="4.1" height="6.5" fill="#a8f2fc"/>
<rect x="436.23" y="320.5" width="2.8" height="5.4" fill="#1c7fbe"/>
<rect x="443.39" y="319.95" width="4.1" height="6.5" fill="#a8f2fc"/>
<rect x="444.04" y="320.5" width="2.8" height="5.4" fill="#1c7fbe"/>
<rect x="447.3" y="319.95" width="4.1" height="6.5" fill="#a8f2fc"/>
<rect x="447.95" y="320.5" width="2.8" height="5.4" fill="#1c7fbe"/>
<rect x="451.2" y="319.95" width="4.1" height="6.5" fill="#a8f2fc"/>
<rect x="451.85" y="320.5" width="2.8" height="5.4" fill="#1c7fbe"/>
<rect x="455.11" y="319.95" width="4.1" height="6.5" fill="#a8f2fc"/>
<rect x="455.76" y="320.5" width="2.8" height="5.4" fill="#1c7fbe"/>
<rect x="459.02" y="319.95" width="4.1" height="6.5" fill="#a8f2fc"/>
<rect x="459.67" y="320.5" width="2.8" height="5.4" fill="#1c7fbe"/>
<rect x="470.73" y="319.95" width="4.1" height="6.5" fill="#a8f2fc"/>
<rect x="471.38" y="320.5" width="2.8" height="5.4" fill="#1c7fbe"/>
<rect x="490.26" y="319.95" width="4.1" height="6.5" fill="#a8f2fc"/>
<rect x="490.91" y="320.5" width="2.8" height="5.4" fill="#1c7fbe"/>
<rect x="494.17" y="319.95" width="4.1" height="6.5" fill="#a8f2fc"/>
<rect x="494.82" y="320.5" width="2.8" height="5.4" fill="#1c7fbe"/>
<rect x="109.55" y="327.75" width="4.1" height="6.5" fill="#a8f2fc"/>
<rect x="110.2" y="328.3" width="2.8" height="5.4" fill="#1c7fbe"/>
<rect x="152.52" y="327.75" width="4.1" height="6.5" fill="#a8f2fc"/>
<rect x="153.17" y="328.3" width="2.8" height="5.4" fill="#1c7fbe"/>
<rect x="250.17" y="327.75" width="4.1" height="6.5" fill="#a8f2fc"/>
<rect x="250.82" y="328.3" width="2.8" height="5.4" fill="#1c7fbe"/>
<rect x="257.98" y="327.75" width="4.1" height="6.5" fill="#a8f2fc"/>
<rect x="258.63" y="328.3" width="2.8" height="5.4" fill="#1c7fbe"/>
<rect x="273.61" y="327.75" width="4.1" height="6.5" fill="#a8f2fc"/>
<rect x="274.26" y="328.3" width="2.8" height="5.4" fill="#1c7fbe"/>
<rect x="277.51" y="327.75" width="4.1" height="6.5" fill="#a8f2fc"/>
<rect x="278.16" y="328.3" width="2.8" height="5.4" fill="#1c7fbe"/>
<rect x="312.67" y="327.75" width="4.1" height="6.5" fill="#a8f2fc"/>
<rect x="313.32" y="328.3" width="2.8" height="5.4" fill="#1c7fbe"/>
<rect x="337.93" y="327.75" width="4.1" height="6.5" fill="#a8f2fc"/>
<rect x="338.58" y="328.3" width="2.8" height="5.4" fill="#1c7fbe"/>
<rect x="341.84" y="327.75" width="4.1" height="6.5" fill="#a8f2fc"/>
<rect x="342.49" y="328.3" width="2.8" height="5.4" fill="#1c7fbe"/>
<rect x="353.55" y="327.75" width="4.1" height="6.5" fill="#a8f2fc"/>
<rect x="354.2" y="328.3" width="2.8" height="5.4" fill="#1c7fbe"/>
<rect x="361.37" y="327.75" width="4.1" height="6.5" fill="#a8f2fc"/>
<rect x="362.02" y="328.3" width="2.8" height="5.4" fill="#1c7fbe"/>
<rect x="431.67" y="327.75" width="4.1" height="6.5" fill="#a8f2fc"/>
<rect x="432.32" y="328.3" width="2.8" height="5.4" fill="#1c7fbe"/>
<rect x="451.2" y="327.75" width="4.1" height="6.5" fill="#a8f2fc"/>
<rect x="451.85" y="328.3" width="2.8" height="5.4" fill="#1c7fbe"/>
<rect x="455.11" y="327.75" width="4.1" height="6.5" fill="#a8f2fc"/>
<rect x="455.76" y="328.3" width="2.8" height="5.4" fill="#1c7fbe"/>
<rect x="474.64" y="327.75" width="4.1" height="6.5" fill="#a8f2fc"/>
<rect x="475.29" y="328.3" width="2.8" height="5.4" fill="#1c7fbe"/>
<text x="8" y="28.9" font-size="4.9" fill="#525288" text-anchor="start" font-weight="normal" font-style="normal" stroke="#525288" stroke-width="0.08" textLength="30.4" lengthAdjust="spacingAndGlyphs">Chromosomal</text>
<text x="8" y="35" font-size="4.9" fill="#525288" text-anchor="start" font-weight="normal" font-style="normal" stroke="#525288" stroke-width="0.08" textLength="34" lengthAdjust="spacingAndGlyphs">Rearrangements</text>
<text x="8" y="55.9" font-size="4.9" fill="#525288" text-anchor="start" font-weight="normal" font-style="normal" stroke="#525288" stroke-width="0.08" textLength="28.8" lengthAdjust="spacingAndGlyphs">Substitutions</text>
<text x="8" y="62.1" font-size="4.9" fill="#525288" text-anchor="start" font-weight="normal" font-style="normal" stroke="#525288" stroke-width="0.08" textLength="17.8" lengthAdjust="spacingAndGlyphs">&amp; indels</text>
<text x="8.6" y="285.6" font-size="4.9" fill="#5a5a90" text-anchor="start" font-weight="normal" font-style="normal" stroke="#5a5a90" stroke-width="0.04" textLength="29.6" lengthAdjust="spacingAndGlyphs">Copy number</text>
<text x="8.6" y="291.4" font-size="4.9" fill="#5a5a90" text-anchor="start" font-weight="normal" font-style="normal" stroke="#5a5a90" stroke-width="0.04" textLength="24.6" lengthAdjust="spacingAndGlyphs">aberrations</text>
<text x="8.2" y="332.9" font-size="5" fill="#66668e" text-anchor="start" font-weight="normal" font-style="normal" textLength="20.4" lengthAdjust="spacingAndGlyphs">CN-LOH</text>
<text x="7.6" y="70" font-size="3.75" fill="#383838" text-anchor="start" font-weight="normal" font-style="normal" stroke="#383838" stroke-width="0.04" textLength="20.5" lengthAdjust="spacingAndGlyphs">Myeloid TFs</text>
<text x="7.6" y="95.1" font-size="3.75" fill="#383838" text-anchor="start" font-weight="normal" font-style="normal" stroke="#383838" stroke-width="0.04" textLength="28.2" lengthAdjust="spacingAndGlyphs">DNA Methylation</text>
<text x="7.6" y="128.6" font-size="3.75" fill="#383838" text-anchor="start" font-weight="normal" font-style="normal" stroke="#383838" stroke-width="0.04" textLength="32.9" lengthAdjust="spacingAndGlyphs">Activated Signaling</text>
<text x="7.6" y="195.6" font-size="3.75" fill="#383838" text-anchor="start" font-weight="normal" font-style="normal" stroke="#383838" stroke-width="0.04" textLength="31.8" lengthAdjust="spacingAndGlyphs">Tumor Suppression</text>
<text x="7.6" y="215.7" font-size="3.75" fill="#383838" text-anchor="start" font-weight="normal" font-style="normal" stroke="#383838" stroke-width="0.04" textLength="39.2" lengthAdjust="spacingAndGlyphs">Chromatin modifiers</text>
<text x="7.6" y="235.8" font-size="3.75" fill="#383838" text-anchor="start" font-weight="normal" font-style="normal" stroke="#383838" stroke-width="0.04" textLength="24.4" lengthAdjust="spacingAndGlyphs">Spliceosomes</text>
<text x="7.6" y="255.9" font-size="3.75" fill="#383838" text-anchor="start" font-weight="normal" font-style="normal" stroke="#383838" stroke-width="0.04" textLength="17.2" lengthAdjust="spacingAndGlyphs">Cohesins</text>
<text x="73.3" y="28.1" font-size="4" fill="#1a1a1a" text-anchor="end" font-weight="bold" font-style="italic">*PML-RARA</text>
<text x="73.3" y="34.75" font-size="4" fill="#1a1a1a" text-anchor="end" font-weight="bold" font-style="italic">*CBFB-MYH11</text>
<text x="73.3" y="41.4" font-size="4" fill="#1a1a1a" text-anchor="end" font-weight="bold" font-style="italic">*RUNX1-RUNX1T1</text>
<text x="73.3" y="48.05" font-size="4" fill="#1a1a1a" text-anchor="end" font-weight="bold" font-style="italic">*MLL-X fusions</text>
<text x="73.3" y="55.2" font-size="4" fill="#1a1a1a" text-anchor="end" font-weight="bold" font-style="italic">*MLL-PTD</text>
<text x="73.3" y="61.9" font-size="4" fill="#1a1a1a" text-anchor="end" font-weight="bold" font-style="italic">*NPM1</text>
<text x="73.3" y="68.6" font-size="4" fill="#1a1a1a" text-anchor="end" font-weight="bold" font-style="italic">CEBPA</text>
<text x="73.3" y="75.3" font-size="4" fill="#1a1a1a" text-anchor="end" font-weight="bold" font-style="italic">RUNX1</text>
<text x="73.3" y="82" font-size="4" fill="#1a1a1a" text-anchor="end" font-weight="bold" font-style="italic">CREBBP</text>
<text x="73.3" y="88.7" font-size="4" fill="#1a1a1a" text-anchor="end" font-weight="bold" font-style="italic">GATA2</text>
<text x="73.3" y="95.4" font-size="4" fill="#1a1a1a" text-anchor="end" font-weight="bold" font-style="italic">DNMT3A</text>
<text x="73.3" y="102.1" font-size="4" fill="#1a1a1a" text-anchor="end" font-weight="bold" font-style="italic">*IDH1</text>
<text x="73.3" y="108.8" font-size="4" fill="#1a1a1a" text-anchor="end" font-weight="bold" font-style="italic">*IDH2</text>
<text x="73.3" y="115.5" font-size="4" fill="#1a1a1a" text-anchor="end" font-weight="bold" font-style="italic">TET2</text>
<text x="73.3" y="122.2" font-size="4" fill="#1a1a1a" text-anchor="end" font-weight="bold" font-style="italic">WT1</text>
<text x="73.3" y="128.9" font-size="4" fill="#1a1a1a" text-anchor="end" font-weight="bold" font-style="italic">*FLT3-TKD</text>
<text x="73.3" y="135.6" font-size="4" fill="#1a1a1a" text-anchor="end" font-weight="bold" font-style="italic">*FLT3-ITD</text>
<text x="73.3" y="142.3" font-size="4" fill="#1a1a1a" text-anchor="end" font-weight="bold" font-style="italic">KIT</text>
<text x="73.3" y="149" font-size="4" fill="#1a1a1a" text-anchor="end" font-weight="bold" font-style="italic" textLength="28.4" lengthAdjust="spacingAndGlyphs">NRAS/KRAS</text>
<text x="73.3" y="155.7" font-size="4" fill="#1a1a1a" text-anchor="end" font-weight="bold" font-style="italic">CSF1R</text>
<text x="73.3" y="162.4" font-size="4" fill="#1a1a1a" text-anchor="end" font-weight="bold" font-style="italic">PTPN11</text>
<text x="73.3" y="169.1" font-size="4" fill="#1a1a1a" text-anchor="end" font-weight="bold" font-style="italic">MPL</text>
<text x="73.3" y="175.8" font-size="4" fill="#1a1a1a" text-anchor="end" font-weight="bold" font-style="italic">JAK2</text>
<text x="73.3" y="182.5" font-size="4" fill="#1a1a1a" text-anchor="end" font-weight="bold" font-style="italic">CBL</text>
<text x="73.3" y="189.2" font-size="4" fill="#1a1a1a" text-anchor="end" font-weight="bold" font-style="italic">ZAN</text>
<text x="73.3" y="195.9" font-size="4" fill="#1a1a1a" text-anchor="end" font-weight="bold" font-style="italic">PHF6</text>
<text x="73.3" y="202.6" font-size="4" fill="#1a1a1a" text-anchor="end" font-weight="bold" font-style="italic">BCOR</text>
<text x="73.3" y="209.3" font-size="4" fill="#1a1a1a" text-anchor="end" font-weight="bold" font-style="italic">TP53</text>
<text x="73.3" y="216" font-size="4" fill="#1a1a1a" text-anchor="end" font-weight="bold" font-style="italic">ASXL1</text>
<text x="73.3" y="222.7" font-size="4" fill="#1a1a1a" text-anchor="end" font-weight="bold" font-style="italic">EZH2</text>
<text x="73.3" y="229.4" font-size="4" fill="#1a1a1a" text-anchor="end" font-weight="bold" font-style="italic">MLL</text>
<text x="73.3" y="236.1" font-size="4" fill="#1a1a1a" text-anchor="end" font-weight="bold" font-style="italic">SF3B1</text>
<text x="73.3" y="242.8" font-size="4" fill="#1a1a1a" text-anchor="end" font-weight="bold" font-style="italic">SRSF2</text>
<text x="73.3" y="249.5" font-size="4" fill="#1a1a1a" text-anchor="end" font-weight="bold" font-style="italic">U2AF1</text>
<text x="73.3" y="256.2" font-size="4" fill="#1a1a1a" text-anchor="end" font-weight="bold" font-style="italic">SMC3</text>
<text x="73.3" y="262.9" font-size="4" fill="#1a1a1a" text-anchor="end" font-weight="bold" font-style="italic">SMC1A</text>
<text x="73.3" y="269.6" font-size="4" fill="#1a1a1a" text-anchor="end" font-weight="bold" font-style="italic">STAG2</text>
<text x="73.3" y="276.3" font-size="4" fill="#1a1a1a" text-anchor="end" font-weight="bold" font-style="italic">RAD21</text>
<text x="73.3" y="284.5" font-size="4" fill="#333" text-anchor="end" font-weight="normal" font-style="normal" stroke="#333" stroke-width="0.08">del(5)/del(5q)</text>
<text x="73.3" y="291.2" font-size="4" fill="#333" text-anchor="end" font-weight="normal" font-style="normal" stroke="#333" stroke-width="0.08">del(7)/del(7q)</text>
<text x="73.3" y="297.9" font-size="4" fill="#333" text-anchor="end" font-weight="normal" font-style="normal" stroke="#333" stroke-width="0.08">del(13q)</text>
<text x="73.3" y="304.6" font-size="4" fill="#333" text-anchor="end" font-weight="normal" font-style="normal" stroke="#333" stroke-width="0.08">del(20q)</text>
<text x="73.3" y="311.3" font-size="4" fill="#333" text-anchor="end" font-weight="normal" font-style="normal" stroke="#333" stroke-width="0.08">trisomy 8</text>
<text x="73.3" y="318" font-size="4" fill="#333" text-anchor="end" font-weight="normal" font-style="normal" stroke="#333" stroke-width="0.08">del(17p)</text>
<text x="73.3" y="324.7" font-size="4" fill="#333" text-anchor="end" font-weight="normal" font-style="normal" stroke="#333" stroke-width="0.08">Other large CNA</text>
<rect x="9.5" y="340" width="214.2" height="27" fill="none" stroke="#333" stroke-width="0.9"/>
<text x="10.9" y="346.2" font-size="4.6" fill="#333" text-anchor="start" font-weight="normal" font-style="normal" textLength="9.8" lengthAdjust="spacingAndGlyphs">Key:</text>
<rect x="30.6" y="341.05" width="3.5" height="6.5" fill="#a8f2fc"/>
<rect x="31.25" y="341.6" width="2.2" height="5.4" fill="#1c7fbe"/>
<rect x="30.54" y="349.15" width="3.62" height="7.3" fill="#ecc0d0"/>
<rect x="30.54" y="349.65" width="3.62" height="6.3" fill="#9a4c70"/>
<rect x="31.2" y="349.75" width="2.3" height="6.1" fill="#48244a"/>
<rect x="31.75" y="350.55" width="1.2" height="4.5" fill="#3a84bc"/>
<rect x="30.6" y="357.55" width="3.5" height="6.5" fill="#a0eefa"/>
<rect x="31.25" y="358.1" width="2.2" height="5.4" fill="#2a7898"/>
<rect x="31.8" y="359.7" width="1.1" height="2.2" fill="#03080f"/>
<rect x="131.4" y="341.05" width="3.5" height="6.5" fill="#a0eefa"/>
<rect x="132.05" y="341.6" width="2.2" height="5.4" fill="#0e3452"/>
<rect x="132.6" y="342.5" width="1.1" height="3.6" fill="#03080f"/>
<rect x="131.55" y="349.5" width="3.2" height="6.6" fill="#f3dce4"/>
<rect x="131.8" y="349.7" width="2.7" height="6.2" fill="#7a2a3c"/>
<rect x="132.55" y="350.7" width="1.2" height="4.2" fill="#ead0d8"/>
<rect x="131.55" y="357.5" width="3.2" height="6.6" fill="#f6e6ea"/>
<rect x="132.1" y="357.9" width="2.1" height="5.8" fill="#f6eaee" stroke="#b8485e" stroke-width="0.6" stroke-dasharray="0.9 0.7"/>
<text x="36.1" y="345.8" font-size="4.2" fill="#2e2e2e" text-anchor="start" font-weight="normal" font-style="normal" textLength="34.8" lengthAdjust="spacingAndGlyphs">Mutation detected</text>
<text x="36.1" y="354.3" font-size="4.2" fill="#2e2e2e" text-anchor="start" font-weight="normal" font-style="normal" textLength="77.8" lengthAdjust="spacingAndGlyphs">Mutation identified at diagnosis detected</text>
<text x="36.1" y="362.3" font-size="4.2" fill="#2e2e2e" text-anchor="start" font-weight="normal" font-style="normal" textLength="53.3" lengthAdjust="spacingAndGlyphs">CN-LOH affecting mutation</text>
<text x="137.2" y="345.8" font-size="4.2" fill="#2e2e2e" text-anchor="start" font-weight="normal" font-style="normal" textLength="57.3" lengthAdjust="spacingAndGlyphs">&gt;1 mutation in the same gene</text>
<text x="137.2" y="354.3" font-size="4.2" fill="#2e2e2e" text-anchor="start" font-weight="normal" font-style="normal" textLength="84.8" lengthAdjust="spacingAndGlyphs">Mutations identified at diagnosis not detected</text>
<text x="137.2" y="362.3" font-size="4.2" fill="#2e2e2e" text-anchor="start" font-weight="normal" font-style="normal" textLength="77.5" lengthAdjust="spacingAndGlyphs">CNA in &lt;20% cells by cytogenetics/FISH</text></g></svg>
</body></html>
